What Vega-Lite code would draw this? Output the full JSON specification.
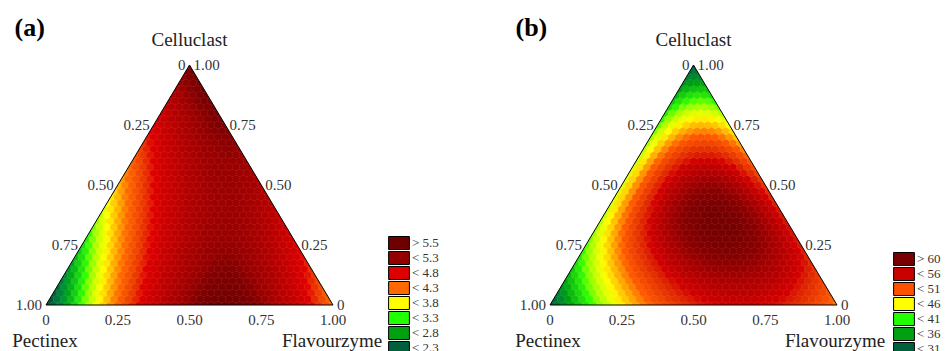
{
"$schema":"https://vega.github.io/schema/vega-lite/v6.json",
"background":"white",
"padding":{"left":12,"top":15,"right":0,"bottom":0},
"spacing":217,
"bounds":"flush",
"config":{"view":{"stroke":null},"legend":{"padding":0}},
"resolve":{"scale":{"color":"independent","fill":"independent","stroke":"independent","x":"independent","y":"independent"},"legend":{"color":"independent"}},
"datasets":{
"common":[
{"g":"o","c":0,"f":0,"o":0},{"g":"o","c":0,"f":1,"o":1},{"g":"o","c":1,"f":0,"o":2},{"g":"o","c":0,"f":0,"o":3},
{"g":"mL","c":0,"f":0},{"g":"mL","c":1,"f":0},
{"g":"mR","c":0,"f":1},{"g":"mR","c":1,"f":0},
{"g":"L","c":1,"f":0,"t":"0"},{"g":"L","c":0.75,"f":0,"t":"0.25"},{"g":"L","c":0.5,"f":0,"t":"0.50"},{"g":"L","c":0.25,"f":0,"t":"0.75"},{"g":"L","c":0,"f":0,"t":"1.00"},
{"g":"R","c":1,"f":0,"t":"1.00"},{"g":"R","c":0.75,"f":0.25,"t":"0.75"},{"g":"R","c":0.5,"f":0.5,"t":"0.50"},{"g":"R","c":0.25,"f":0.75,"t":"0.25"},{"g":"R","c":0,"f":1,"t":"0"},
{"g":"B","c":0,"f":0,"t":"0"},{"g":"B","c":0,"f":0.25,"t":"0.25"},{"g":"B","c":0,"f":0.5,"t":"0.50"},{"g":"B","c":0,"f":0.75,"t":"0.75"},{"g":"B","c":0,"f":1,"t":"1.00"},
{"g":"T","c":1,"f":0,"t":"Celluclast"},
{"g":"N","c":0,"f":0,"t":"Pectinex"},{"g":"N","c":0,"f":1,"t":"Flavourzyme"},
{"g":"ta","c":1,"f":0,"t":"(a)"},{"g":"tb","c":1,"f":0,"t":"(b)"}
],
"a":[
{"c":0,"f":0,"v":2},{"c":0,"f":0.025,"v":2.29},{"c":0,"f":0.05,"v":2.56},{"c":0,"f":0.075,"v":2.82},{"c":0,"f":0.1,"v":3.08},{"c":0,"f":0.125,"v":3.32},{"c":0,"f":0.15,"v":3.54},{"c":0,"f":0.175,"v":3.76},{"c":0,"f":0.2,"v":3.96},{"c":0,"f":0.225,"v":4.16},{"c":0,"f":0.25,"v":4.34},{"c":0,"f":0.275,"v":4.51},{"c":0,"f":0.3,"v":4.66},{"c":0,"f":0.325,"v":4.81},{"c":0,"f":0.35,"v":4.94},{"c":0,"f":0.375,"v":5.07},{"c":0,"f":0.4,"v":5.18},{"c":0,"f":0.425,"v":5.27},{"c":0,"f":0.45,"v":5.36},{"c":0,"f":0.475,"v":5.44},{"c":0,"f":0.5,"v":5.5},{"c":0,"f":0.525,"v":5.55},{"c":0,"f":0.55,"v":5.59},{"c":0,"f":0.575,"v":5.62},{"c":0,"f":0.6,"v":5.64},{"c":0,"f":0.625,"v":5.64},{"c":0,"f":0.65,"v":5.63},{"c":0,"f":0.675,"v":5.61},{"c":0,"f":0.7,"v":5.58},{"c":0,"f":0.725,"v":5.54},{"c":0,"f":0.75,"v":5.49},{"c":0,"f":0.775,"v":5.42},{"c":0,"f":0.8,"v":5.34},{"c":0,"f":0.825,"v":5.25},{"c":0,"f":0.85,"v":5.15},{"c":0,"f":0.875,"v":5.04},{"c":0,"f":0.9,"v":4.92},{"c":0,"f":0.925,"v":4.78},{"c":0,"f":0.95,"v":4.63},{"c":0,"f":0.975,"v":4.47},{"c":0,"f":1,"v":4.3},
{"c":0.025,"f":0,"v":2.11},{"c":0.025,"f":0.025,"v":2.4},{"c":0.025,"f":0.05,"v":2.66},{"c":0.025,"f":0.075,"v":2.92},{"c":0.025,"f":0.1,"v":3.17},{"c":0.025,"f":0.125,"v":3.4},{"c":0.025,"f":0.15,"v":3.62},{"c":0.025,"f":0.175,"v":3.83},{"c":0.025,"f":0.2,"v":4.03},{"c":0.025,"f":0.225,"v":4.22},{"c":0.025,"f":0.25,"v":4.4},{"c":0.025,"f":0.275,"v":4.56},{"c":0.025,"f":0.3,"v":4.71},{"c":0.025,"f":0.325,"v":4.85},{"c":0.025,"f":0.35,"v":4.98},{"c":0.025,"f":0.375,"v":5.1},{"c":0.025,"f":0.4,"v":5.2},{"c":0.025,"f":0.425,"v":5.29},{"c":0.025,"f":0.45,"v":5.37},{"c":0.025,"f":0.475,"v":5.44},{"c":0.025,"f":0.5,"v":5.5},{"c":0.025,"f":0.525,"v":5.55},{"c":0.025,"f":0.55,"v":5.58},{"c":0.025,"f":0.575,"v":5.6},{"c":0.025,"f":0.6,"v":5.62},{"c":0.025,"f":0.625,"v":5.61},{"c":0.025,"f":0.65,"v":5.6},{"c":0.025,"f":0.675,"v":5.58},{"c":0.025,"f":0.7,"v":5.54},{"c":0.025,"f":0.725,"v":5.49},{"c":0.025,"f":0.75,"v":5.43},{"c":0.025,"f":0.775,"v":5.36},{"c":0.025,"f":0.8,"v":5.28},{"c":0.025,"f":0.825,"v":5.18},{"c":0.025,"f":0.85,"v":5.08},{"c":0.025,"f":0.875,"v":4.96},{"c":0.025,"f":0.9,"v":4.83},{"c":0.025,"f":0.925,"v":4.69},{"c":0.025,"f":0.95,"v":4.53},{"c":0.025,"f":0.975,"v":4.37},
{"c":0.05,"f":0,"v":2.23},{"c":0.05,"f":0.025,"v":2.5},{"c":0.05,"f":0.05,"v":2.77},{"c":0.05,"f":0.075,"v":3.02},{"c":0.05,"f":0.1,"v":3.26},{"c":0.05,"f":0.125,"v":3.49},{"c":0.05,"f":0.15,"v":3.7},{"c":0.05,"f":0.175,"v":3.91},{"c":0.05,"f":0.2,"v":4.1},{"c":0.05,"f":0.225,"v":4.28},{"c":0.05,"f":0.25,"v":4.45},{"c":0.05,"f":0.275,"v":4.61},{"c":0.05,"f":0.3,"v":4.76},{"c":0.05,"f":0.325,"v":4.89},{"c":0.05,"f":0.35,"v":5.01},{"c":0.05,"f":0.375,"v":5.12},{"c":0.05,"f":0.4,"v":5.22},{"c":0.05,"f":0.425,"v":5.31},{"c":0.05,"f":0.45,"v":5.39},{"c":0.05,"f":0.475,"v":5.45},{"c":0.05,"f":0.5,"v":5.5},{"c":0.05,"f":0.525,"v":5.54},{"c":0.05,"f":0.55,"v":5.57},{"c":0.05,"f":0.575,"v":5.59},{"c":0.05,"f":0.6,"v":5.59},{"c":0.05,"f":0.625,"v":5.59},{"c":0.05,"f":0.65,"v":5.57},{"c":0.05,"f":0.675,"v":5.54},{"c":0.05,"f":0.7,"v":5.5},{"c":0.05,"f":0.725,"v":5.44},{"c":0.05,"f":0.75,"v":5.38},{"c":0.05,"f":0.775,"v":5.3},{"c":0.05,"f":0.8,"v":5.21},{"c":0.05,"f":0.825,"v":5.11},{"c":0.05,"f":0.85,"v":5},{"c":0.05,"f":0.875,"v":4.87},{"c":0.05,"f":0.9,"v":4.74},{"c":0.05,"f":0.925,"v":4.59},{"c":0.05,"f":0.95,"v":4.43},
{"c":0.075,"f":0,"v":2.34},{"c":0.075,"f":0.025,"v":2.61},{"c":0.075,"f":0.05,"v":2.87},{"c":0.075,"f":0.075,"v":3.11},{"c":0.075,"f":0.1,"v":3.35},{"c":0.075,"f":0.125,"v":3.57},{"c":0.075,"f":0.15,"v":3.78},{"c":0.075,"f":0.175,"v":3.98},{"c":0.075,"f":0.2,"v":4.17},{"c":0.075,"f":0.225,"v":4.34},{"c":0.075,"f":0.25,"v":4.51},{"c":0.075,"f":0.275,"v":4.66},{"c":0.075,"f":0.3,"v":4.8},{"c":0.075,"f":0.325,"v":4.93},{"c":0.075,"f":0.35,"v":5.05},{"c":0.075,"f":0.375,"v":5.15},{"c":0.075,"f":0.4,"v":5.25},{"c":0.075,"f":0.425,"v":5.33},{"c":0.075,"f":0.45,"v":5.4},{"c":0.075,"f":0.475,"v":5.46},{"c":0.075,"f":0.5,"v":5.5},{"c":0.075,"f":0.525,"v":5.54},{"c":0.075,"f":0.55,"v":5.56},{"c":0.075,"f":0.575,"v":5.57},{"c":0.075,"f":0.6,"v":5.57},{"c":0.075,"f":0.625,"v":5.56},{"c":0.075,"f":0.65,"v":5.53},{"c":0.075,"f":0.675,"v":5.5},{"c":0.075,"f":0.7,"v":5.45},{"c":0.075,"f":0.725,"v":5.39},{"c":0.075,"f":0.75,"v":5.32},{"c":0.075,"f":0.775,"v":5.24},{"c":0.075,"f":0.8,"v":5.14},{"c":0.075,"f":0.825,"v":5.04},{"c":0.075,"f":0.85,"v":4.92},{"c":0.075,"f":0.875,"v":4.79},{"c":0.075,"f":0.9,"v":4.65},{"c":0.075,"f":0.925,"v":4.49},
{"c":0.1,"f":0,"v":2.45},{"c":0.1,"f":0.025,"v":2.71},{"c":0.1,"f":0.05,"v":2.97},{"c":0.1,"f":0.075,"v":3.21},{"c":0.1,"f":0.1,"v":3.44},{"c":0.1,"f":0.125,"v":3.65},{"c":0.1,"f":0.15,"v":3.86},{"c":0.1,"f":0.175,"v":4.05},{"c":0.1,"f":0.2,"v":4.23},{"c":0.1,"f":0.225,"v":4.4},{"c":0.1,"f":0.25,"v":4.56},{"c":0.1,"f":0.275,"v":4.71},{"c":0.1,"f":0.3,"v":4.84},{"c":0.1,"f":0.325,"v":4.97},{"c":0.1,"f":0.35,"v":5.08},{"c":0.1,"f":0.375,"v":5.18},{"c":0.1,"f":0.4,"v":5.27},{"c":0.1,"f":0.425,"v":5.34},{"c":0.1,"f":0.45,"v":5.41},{"c":0.1,"f":0.475,"v":5.46},{"c":0.1,"f":0.5,"v":5.5},{"c":0.1,"f":0.525,"v":5.53},{"c":0.1,"f":0.55,"v":5.55},{"c":0.1,"f":0.575,"v":5.55},{"c":0.1,"f":0.6,"v":5.55},{"c":0.1,"f":0.625,"v":5.53},{"c":0.1,"f":0.65,"v":5.5},{"c":0.1,"f":0.675,"v":5.46},{"c":0.1,"f":0.7,"v":5.4},{"c":0.1,"f":0.725,"v":5.34},{"c":0.1,"f":0.75,"v":5.26},{"c":0.1,"f":0.775,"v":5.17},{"c":0.1,"f":0.8,"v":5.07},{"c":0.1,"f":0.825,"v":4.96},{"c":0.1,"f":0.85,"v":4.84},{"c":0.1,"f":0.875,"v":4.7},{"c":0.1,"f":0.9,"v":4.56},
{"c":0.125,"f":0,"v":2.56},{"c":0.125,"f":0.025,"v":2.82},{"c":0.125,"f":0.05,"v":3.06},{"c":0.125,"f":0.075,"v":3.3},{"c":0.125,"f":0.1,"v":3.52},{"c":0.125,"f":0.125,"v":3.73},{"c":0.125,"f":0.15,"v":3.93},{"c":0.125,"f":0.175,"v":4.12},{"c":0.125,"f":0.2,"v":4.3},{"c":0.125,"f":0.225,"v":4.46},{"c":0.125,"f":0.25,"v":4.62},{"c":0.125,"f":0.275,"v":4.76},{"c":0.125,"f":0.3,"v":4.89},{"c":0.125,"f":0.325,"v":5},{"c":0.125,"f":0.35,"v":5.11},{"c":0.125,"f":0.375,"v":5.2},{"c":0.125,"f":0.4,"v":5.29},{"c":0.125,"f":0.425,"v":5.36},{"c":0.125,"f":0.45,"v":5.41},{"c":0.125,"f":0.475,"v":5.46},{"c":0.125,"f":0.5,"v":5.5},{"c":0.125,"f":0.525,"v":5.52},{"c":0.125,"f":0.55,"v":5.53},{"c":0.125,"f":0.575,"v":5.53},{"c":0.125,"f":0.6,"v":5.52},{"c":0.125,"f":0.625,"v":5.5},{"c":0.125,"f":0.65,"v":5.46},{"c":0.125,"f":0.675,"v":5.41},{"c":0.125,"f":0.7,"v":5.36},{"c":0.125,"f":0.725,"v":5.29},{"c":0.125,"f":0.75,"v":5.2},{"c":0.125,"f":0.775,"v":5.11},{"c":0.125,"f":0.8,"v":5},{"c":0.125,"f":0.825,"v":4.89},{"c":0.125,"f":0.85,"v":4.76},{"c":0.125,"f":0.875,"v":4.62},
{"c":0.15,"f":0,"v":2.67},{"c":0.15,"f":0.025,"v":2.92},{"c":0.15,"f":0.05,"v":3.16},{"c":0.15,"f":0.075,"v":3.39},{"c":0.15,"f":0.1,"v":3.61},{"c":0.15,"f":0.125,"v":3.81},{"c":0.15,"f":0.15,"v":4.01},{"c":0.15,"f":0.175,"v":4.19},{"c":0.15,"f":0.2,"v":4.36},{"c":0.15,"f":0.225,"v":4.52},{"c":0.15,"f":0.25,"v":4.67},{"c":0.15,"f":0.275,"v":4.8},{"c":0.15,"f":0.3,"v":4.93},{"c":0.15,"f":0.325,"v":5.04},{"c":0.15,"f":0.35,"v":5.14},{"c":0.15,"f":0.375,"v":5.23},{"c":0.15,"f":0.4,"v":5.3},{"c":0.15,"f":0.425,"v":5.37},{"c":0.15,"f":0.45,"v":5.42},{"c":0.15,"f":0.475,"v":5.46},{"c":0.15,"f":0.5,"v":5.49},{"c":0.15,"f":0.525,"v":5.51},{"c":0.15,"f":0.55,"v":5.52},{"c":0.15,"f":0.575,"v":5.51},{"c":0.15,"f":0.6,"v":5.49},{"c":0.15,"f":0.625,"v":5.46},{"c":0.15,"f":0.65,"v":5.42},{"c":0.15,"f":0.675,"v":5.37},{"c":0.15,"f":0.7,"v":5.31},{"c":0.15,"f":0.725,"v":5.23},{"c":0.15,"f":0.75,"v":5.14},{"c":0.15,"f":0.775,"v":5.04},{"c":0.15,"f":0.8,"v":4.93},{"c":0.15,"f":0.825,"v":4.81},{"c":0.15,"f":0.85,"v":4.67},
{"c":0.175,"f":0,"v":2.77},{"c":0.175,"f":0.025,"v":3.02},{"c":0.175,"f":0.05,"v":3.26},{"c":0.175,"f":0.075,"v":3.48},{"c":0.175,"f":0.1,"v":3.69},{"c":0.175,"f":0.125,"v":3.89},{"c":0.175,"f":0.15,"v":4.08},{"c":0.175,"f":0.175,"v":4.26},{"c":0.175,"f":0.2,"v":4.42},{"c":0.175,"f":0.225,"v":4.58},{"c":0.175,"f":0.25,"v":4.72},{"c":0.175,"f":0.275,"v":4.85},{"c":0.175,"f":0.3,"v":4.97},{"c":0.175,"f":0.325,"v":5.07},{"c":0.175,"f":0.35,"v":5.17},{"c":0.175,"f":0.375,"v":5.25},{"c":0.175,"f":0.4,"v":5.32},{"c":0.175,"f":0.425,"v":5.38},{"c":0.175,"f":0.45,"v":5.43},{"c":0.175,"f":0.475,"v":5.46},{"c":0.175,"f":0.5,"v":5.49},{"c":0.175,"f":0.525,"v":5.5},{"c":0.175,"f":0.55,"v":5.5},{"c":0.175,"f":0.575,"v":5.49},{"c":0.175,"f":0.6,"v":5.47},{"c":0.175,"f":0.625,"v":5.43},{"c":0.175,"f":0.65,"v":5.38},{"c":0.175,"f":0.675,"v":5.33},{"c":0.175,"f":0.7,"v":5.26},{"c":0.175,"f":0.725,"v":5.17},{"c":0.175,"f":0.75,"v":5.08},{"c":0.175,"f":0.775,"v":4.98},{"c":0.175,"f":0.8,"v":4.86},{"c":0.175,"f":0.825,"v":4.73},
{"c":0.2,"f":0,"v":2.88},{"c":0.2,"f":0.025,"v":3.12},{"c":0.2,"f":0.05,"v":3.35},{"c":0.2,"f":0.075,"v":3.57},{"c":0.2,"f":0.1,"v":3.78},{"c":0.2,"f":0.125,"v":3.97},{"c":0.2,"f":0.15,"v":4.15},{"c":0.2,"f":0.175,"v":4.32},{"c":0.2,"f":0.2,"v":4.48},{"c":0.2,"f":0.225,"v":4.63},{"c":0.2,"f":0.25,"v":4.77},{"c":0.2,"f":0.275,"v":4.89},{"c":0.2,"f":0.3,"v":5},{"c":0.2,"f":0.325,"v":5.1},{"c":0.2,"f":0.35,"v":5.19},{"c":0.2,"f":0.375,"v":5.27},{"c":0.2,"f":0.4,"v":5.34},{"c":0.2,"f":0.425,"v":5.39},{"c":0.2,"f":0.45,"v":5.43},{"c":0.2,"f":0.475,"v":5.46},{"c":0.2,"f":0.5,"v":5.48},{"c":0.2,"f":0.525,"v":5.49},{"c":0.2,"f":0.55,"v":5.48},{"c":0.2,"f":0.575,"v":5.46},{"c":0.2,"f":0.6,"v":5.44},{"c":0.2,"f":0.625,"v":5.4},{"c":0.2,"f":0.65,"v":5.34},{"c":0.2,"f":0.675,"v":5.28},{"c":0.2,"f":0.7,"v":5.2},{"c":0.2,"f":0.725,"v":5.12},{"c":0.2,"f":0.75,"v":5.02},{"c":0.2,"f":0.775,"v":4.91},{"c":0.2,"f":0.8,"v":4.78},
{"c":0.225,"f":0,"v":2.98},{"c":0.225,"f":0.025,"v":3.22},{"c":0.225,"f":0.05,"v":3.44},{"c":0.225,"f":0.075,"v":3.66},{"c":0.225,"f":0.1,"v":3.86},{"c":0.225,"f":0.125,"v":4.05},{"c":0.225,"f":0.15,"v":4.22},{"c":0.225,"f":0.175,"v":4.39},{"c":0.225,"f":0.2,"v":4.54},{"c":0.225,"f":0.225,"v":4.69},{"c":0.225,"f":0.25,"v":4.82},{"c":0.225,"f":0.275,"v":4.93},{"c":0.225,"f":0.3,"v":5.04},{"c":0.225,"f":0.325,"v":5.14},{"c":0.225,"f":0.35,"v":5.22},{"c":0.225,"f":0.375,"v":5.29},{"c":0.225,"f":0.4,"v":5.35},{"c":0.225,"f":0.425,"v":5.4},{"c":0.225,"f":0.45,"v":5.43},{"c":0.225,"f":0.475,"v":5.46},{"c":0.225,"f":0.5,"v":5.47},{"c":0.225,"f":0.525,"v":5.47},{"c":0.225,"f":0.55,"v":5.46},{"c":0.225,"f":0.575,"v":5.44},{"c":0.225,"f":0.6,"v":5.41},{"c":0.225,"f":0.625,"v":5.36},{"c":0.225,"f":0.65,"v":5.3},{"c":0.225,"f":0.675,"v":5.23},{"c":0.225,"f":0.7,"v":5.15},{"c":0.225,"f":0.725,"v":5.06},{"c":0.225,"f":0.75,"v":4.95},{"c":0.225,"f":0.775,"v":4.84},
{"c":0.25,"f":0,"v":3.09},{"c":0.25,"f":0.025,"v":3.32},{"c":0.25,"f":0.05,"v":3.54},{"c":0.25,"f":0.075,"v":3.74},{"c":0.25,"f":0.1,"v":3.94},{"c":0.25,"f":0.125,"v":4.12},{"c":0.25,"f":0.15,"v":4.29},{"c":0.25,"f":0.175,"v":4.45},{"c":0.25,"f":0.2,"v":4.6},{"c":0.25,"f":0.225,"v":4.74},{"c":0.25,"f":0.25,"v":4.86},{"c":0.25,"f":0.275,"v":4.98},{"c":0.25,"f":0.3,"v":5.08},{"c":0.25,"f":0.325,"v":5.17},{"c":0.25,"f":0.35,"v":5.24},{"c":0.25,"f":0.375,"v":5.31},{"c":0.25,"f":0.4,"v":5.36},{"c":0.25,"f":0.425,"v":5.41},{"c":0.25,"f":0.45,"v":5.44},{"c":0.25,"f":0.475,"v":5.46},{"c":0.25,"f":0.5,"v":5.46},{"c":0.25,"f":0.525,"v":5.46},{"c":0.25,"f":0.55,"v":5.44},{"c":0.25,"f":0.575,"v":5.41},{"c":0.25,"f":0.6,"v":5.37},{"c":0.25,"f":0.625,"v":5.32},{"c":0.25,"f":0.65,"v":5.26},{"c":0.25,"f":0.675,"v":5.18},{"c":0.25,"f":0.7,"v":5.1},{"c":0.25,"f":0.725,"v":5},{"c":0.25,"f":0.75,"v":4.89},
{"c":0.275,"f":0,"v":3.19},{"c":0.275,"f":0.025,"v":3.41},{"c":0.275,"f":0.05,"v":3.63},{"c":0.275,"f":0.075,"v":3.83},{"c":0.275,"f":0.1,"v":4.02},{"c":0.275,"f":0.125,"v":4.2},{"c":0.275,"f":0.15,"v":4.36},{"c":0.275,"f":0.175,"v":4.52},{"c":0.275,"f":0.2,"v":4.66},{"c":0.275,"f":0.225,"v":4.79},{"c":0.275,"f":0.25,"v":4.91},{"c":0.275,"f":0.275,"v":5.02},{"c":0.275,"f":0.3,"v":5.11},{"c":0.275,"f":0.325,"v":5.19},{"c":0.275,"f":0.35,"v":5.27},{"c":0.275,"f":0.375,"v":5.33},{"c":0.275,"f":0.4,"v":5.38},{"c":0.275,"f":0.425,"v":5.41},{"c":0.275,"f":0.45,"v":5.44},{"c":0.275,"f":0.475,"v":5.45},{"c":0.275,"f":0.5,"v":5.45},{"c":0.275,"f":0.525,"v":5.44},{"c":0.275,"f":0.55,"v":5.42},{"c":0.275,"f":0.575,"v":5.39},{"c":0.275,"f":0.6,"v":5.34},{"c":0.275,"f":0.625,"v":5.28},{"c":0.275,"f":0.65,"v":5.21},{"c":0.275,"f":0.675,"v":5.13},{"c":0.275,"f":0.7,"v":5.04},{"c":0.275,"f":0.725,"v":4.94},
{"c":0.3,"f":0,"v":3.29},{"c":0.3,"f":0.025,"v":3.51},{"c":0.3,"f":0.05,"v":3.72},{"c":0.3,"f":0.075,"v":3.91},{"c":0.3,"f":0.1,"v":4.1},{"c":0.3,"f":0.125,"v":4.27},{"c":0.3,"f":0.15,"v":4.43},{"c":0.3,"f":0.175,"v":4.58},{"c":0.3,"f":0.2,"v":4.71},{"c":0.3,"f":0.225,"v":4.84},{"c":0.3,"f":0.25,"v":4.95},{"c":0.3,"f":0.275,"v":5.05},{"c":0.3,"f":0.3,"v":5.14},{"c":0.3,"f":0.325,"v":5.22},{"c":0.3,"f":0.35,"v":5.29},{"c":0.3,"f":0.375,"v":5.34},{"c":0.3,"f":0.4,"v":5.39},{"c":0.3,"f":0.425,"v":5.42},{"c":0.3,"f":0.45,"v":5.44},{"c":0.3,"f":0.475,"v":5.44},{"c":0.3,"f":0.5,"v":5.44},{"c":0.3,"f":0.525,"v":5.42},{"c":0.3,"f":0.55,"v":5.4},{"c":0.3,"f":0.575,"v":5.36},{"c":0.3,"f":0.6,"v":5.31},{"c":0.3,"f":0.625,"v":5.24},{"c":0.3,"f":0.65,"v":5.17},{"c":0.3,"f":0.675,"v":5.08},{"c":0.3,"f":0.7,"v":4.98},
{"c":0.325,"f":0,"v":3.39},{"c":0.325,"f":0.025,"v":3.6},{"c":0.325,"f":0.05,"v":3.8},{"c":0.325,"f":0.075,"v":3.99},{"c":0.325,"f":0.1,"v":4.17},{"c":0.325,"f":0.125,"v":4.34},{"c":0.325,"f":0.15,"v":4.49},{"c":0.325,"f":0.175,"v":4.64},{"c":0.325,"f":0.2,"v":4.77},{"c":0.325,"f":0.225,"v":4.89},{"c":0.325,"f":0.25,"v":5},{"c":0.325,"f":0.275,"v":5.09},{"c":0.325,"f":0.3,"v":5.18},{"c":0.325,"f":0.325,"v":5.25},{"c":0.325,"f":0.35,"v":5.31},{"c":0.325,"f":0.375,"v":5.36},{"c":0.325,"f":0.4,"v":5.4},{"c":0.325,"f":0.425,"v":5.42},{"c":0.325,"f":0.45,"v":5.43},{"c":0.325,"f":0.475,"v":5.44},{"c":0.325,"f":0.5,"v":5.43},{"c":0.325,"f":0.525,"v":5.41},{"c":0.325,"f":0.55,"v":5.37},{"c":0.325,"f":0.575,"v":5.33},{"c":0.325,"f":0.6,"v":5.27},{"c":0.325,"f":0.625,"v":5.2},{"c":0.325,"f":0.65,"v":5.12},{"c":0.325,"f":0.675,"v":5.03},
{"c":0.35,"f":0,"v":3.49},{"c":0.35,"f":0.025,"v":3.7},{"c":0.35,"f":0.05,"v":3.89},{"c":0.35,"f":0.075,"v":4.08},{"c":0.35,"f":0.1,"v":4.25},{"c":0.35,"f":0.125,"v":4.41},{"c":0.35,"f":0.15,"v":4.56},{"c":0.35,"f":0.175,"v":4.7},{"c":0.35,"f":0.2,"v":4.82},{"c":0.35,"f":0.225,"v":4.94},{"c":0.35,"f":0.25,"v":5.04},{"c":0.35,"f":0.275,"v":5.13},{"c":0.35,"f":0.3,"v":5.21},{"c":0.35,"f":0.325,"v":5.27},{"c":0.35,"f":0.35,"v":5.33},{"c":0.35,"f":0.375,"v":5.37},{"c":0.35,"f":0.4,"v":5.4},{"c":0.35,"f":0.425,"v":5.42},{"c":0.35,"f":0.45,"v":5.43},{"c":0.35,"f":0.475,"v":5.43},{"c":0.35,"f":0.5,"v":5.41},{"c":0.35,"f":0.525,"v":5.39},{"c":0.35,"f":0.55,"v":5.35},{"c":0.35,"f":0.575,"v":5.3},{"c":0.35,"f":0.6,"v":5.23},{"c":0.35,"f":0.625,"v":5.16},{"c":0.35,"f":0.65,"v":5.07},
{"c":0.375,"f":0,"v":3.58},{"c":0.375,"f":0.025,"v":3.79},{"c":0.375,"f":0.05,"v":3.98},{"c":0.375,"f":0.075,"v":4.16},{"c":0.375,"f":0.1,"v":4.32},{"c":0.375,"f":0.125,"v":4.48},{"c":0.375,"f":0.15,"v":4.62},{"c":0.375,"f":0.175,"v":4.75},{"c":0.375,"f":0.2,"v":4.87},{"c":0.375,"f":0.225,"v":4.98},{"c":0.375,"f":0.25,"v":5.08},{"c":0.375,"f":0.275,"v":5.16},{"c":0.375,"f":0.3,"v":5.24},{"c":0.375,"f":0.325,"v":5.3},{"c":0.375,"f":0.35,"v":5.35},{"c":0.375,"f":0.375,"v":5.38},{"c":0.375,"f":0.4,"v":5.41},{"c":0.375,"f":0.425,"v":5.42},{"c":0.375,"f":0.45,"v":5.43},{"c":0.375,"f":0.475,"v":5.42},{"c":0.375,"f":0.5,"v":5.4},{"c":0.375,"f":0.525,"v":5.36},{"c":0.375,"f":0.55,"v":5.32},{"c":0.375,"f":0.575,"v":5.26},{"c":0.375,"f":0.6,"v":5.2},{"c":0.375,"f":0.625,"v":5.12},
{"c":0.4,"f":0,"v":3.68},{"c":0.4,"f":0.025,"v":3.88},{"c":0.4,"f":0.05,"v":4.06},{"c":0.4,"f":0.075,"v":4.23},{"c":0.4,"f":0.1,"v":4.4},{"c":0.4,"f":0.125,"v":4.55},{"c":0.4,"f":0.15,"v":4.68},{"c":0.4,"f":0.175,"v":4.81},{"c":0.4,"f":0.2,"v":4.92},{"c":0.4,"f":0.225,"v":5.03},{"c":0.4,"f":0.25,"v":5.12},{"c":0.4,"f":0.275,"v":5.2},{"c":0.4,"f":0.3,"v":5.26},{"c":0.4,"f":0.325,"v":5.32},{"c":0.4,"f":0.35,"v":5.36},{"c":0.4,"f":0.375,"v":5.4},{"c":0.4,"f":0.4,"v":5.42},{"c":0.4,"f":0.425,"v":5.42},{"c":0.4,"f":0.45,"v":5.42},{"c":0.4,"f":0.475,"v":5.41},{"c":0.4,"f":0.5,"v":5.38},{"c":0.4,"f":0.525,"v":5.34},{"c":0.4,"f":0.55,"v":5.29},{"c":0.4,"f":0.575,"v":5.23},{"c":0.4,"f":0.6,"v":5.16},
{"c":0.425,"f":0,"v":3.77},{"c":0.425,"f":0.025,"v":3.97},{"c":0.425,"f":0.05,"v":4.14},{"c":0.425,"f":0.075,"v":4.31},{"c":0.425,"f":0.1,"v":4.47},{"c":0.425,"f":0.125,"v":4.61},{"c":0.425,"f":0.15,"v":4.74},{"c":0.425,"f":0.175,"v":4.86},{"c":0.425,"f":0.2,"v":4.97},{"c":0.425,"f":0.225,"v":5.07},{"c":0.425,"f":0.25,"v":5.16},{"c":0.425,"f":0.275,"v":5.23},{"c":0.425,"f":0.3,"v":5.29},{"c":0.425,"f":0.325,"v":5.34},{"c":0.425,"f":0.35,"v":5.38},{"c":0.425,"f":0.375,"v":5.41},{"c":0.425,"f":0.4,"v":5.42},{"c":0.425,"f":0.425,"v":5.42},{"c":0.425,"f":0.45,"v":5.41},{"c":0.425,"f":0.475,"v":5.39},{"c":0.425,"f":0.5,"v":5.36},{"c":0.425,"f":0.525,"v":5.32},{"c":0.425,"f":0.55,"v":5.26},{"c":0.425,"f":0.575,"v":5.19},
{"c":0.45,"f":0,"v":3.87},{"c":0.45,"f":0.025,"v":4.05},{"c":0.45,"f":0.05,"v":4.23},{"c":0.45,"f":0.075,"v":4.39},{"c":0.45,"f":0.1,"v":4.54},{"c":0.45,"f":0.125,"v":4.68},{"c":0.45,"f":0.15,"v":4.8},{"c":0.45,"f":0.175,"v":4.92},{"c":0.45,"f":0.2,"v":5.02},{"c":0.45,"f":0.225,"v":5.11},{"c":0.45,"f":0.25,"v":5.19},{"c":0.45,"f":0.275,"v":5.26},{"c":0.45,"f":0.3,"v":5.32},{"c":0.45,"f":0.325,"v":5.36},{"c":0.45,"f":0.35,"v":5.39},{"c":0.45,"f":0.375,"v":5.41},{"c":0.45,"f":0.4,"v":5.42},{"c":0.45,"f":0.425,"v":5.42},{"c":0.45,"f":0.45,"v":5.41},{"c":0.45,"f":0.475,"v":5.38},{"c":0.45,"f":0.5,"v":5.34},{"c":0.45,"f":0.525,"v":5.29},{"c":0.45,"f":0.55,"v":5.23},
{"c":0.475,"f":0,"v":3.96},{"c":0.475,"f":0.025,"v":4.14},{"c":0.475,"f":0.05,"v":4.31},{"c":0.475,"f":0.075,"v":4.46},{"c":0.475,"f":0.1,"v":4.61},{"c":0.475,"f":0.125,"v":4.74},{"c":0.475,"f":0.15,"v":4.86},{"c":0.475,"f":0.175,"v":4.97},{"c":0.475,"f":0.2,"v":5.07},{"c":0.475,"f":0.225,"v":5.15},{"c":0.475,"f":0.25,"v":5.23},{"c":0.475,"f":0.275,"v":5.29},{"c":0.475,"f":0.3,"v":5.34},{"c":0.475,"f":0.325,"v":5.38},{"c":0.475,"f":0.35,"v":5.41},{"c":0.475,"f":0.375,"v":5.42},{"c":0.475,"f":0.4,"v":5.43},{"c":0.475,"f":0.425,"v":5.42},{"c":0.475,"f":0.45,"v":5.4},{"c":0.475,"f":0.475,"v":5.37},{"c":0.475,"f":0.5,"v":5.32},{"c":0.475,"f":0.525,"v":5.27},
{"c":0.5,"f":0,"v":4.05},{"c":0.5,"f":0.025,"v":4.22},{"c":0.5,"f":0.05,"v":4.39},{"c":0.5,"f":0.075,"v":4.54},{"c":0.5,"f":0.1,"v":4.68},{"c":0.5,"f":0.125,"v":4.8},{"c":0.5,"f":0.15,"v":4.92},{"c":0.5,"f":0.175,"v":5.02},{"c":0.5,"f":0.2,"v":5.11},{"c":0.5,"f":0.225,"v":5.19},{"c":0.5,"f":0.25,"v":5.26},{"c":0.5,"f":0.275,"v":5.32},{"c":0.5,"f":0.3,"v":5.36},{"c":0.5,"f":0.325,"v":5.4},{"c":0.5,"f":0.35,"v":5.42},{"c":0.5,"f":0.375,"v":5.43},{"c":0.5,"f":0.4,"v":5.43},{"c":0.5,"f":0.425,"v":5.41},{"c":0.5,"f":0.45,"v":5.39},{"c":0.5,"f":0.475,"v":5.35},{"c":0.5,"f":0.5,"v":5.3},
{"c":0.525,"f":0,"v":4.14},{"c":0.525,"f":0.025,"v":4.31},{"c":0.525,"f":0.05,"v":4.46},{"c":0.525,"f":0.075,"v":4.61},{"c":0.525,"f":0.1,"v":4.74},{"c":0.525,"f":0.125,"v":4.86},{"c":0.525,"f":0.15,"v":4.97},{"c":0.525,"f":0.175,"v":5.07},{"c":0.525,"f":0.2,"v":5.16},{"c":0.525,"f":0.225,"v":5.23},{"c":0.525,"f":0.25,"v":5.3},{"c":0.525,"f":0.275,"v":5.35},{"c":0.525,"f":0.3,"v":5.39},{"c":0.525,"f":0.325,"v":5.41},{"c":0.525,"f":0.35,"v":5.43},{"c":0.525,"f":0.375,"v":5.43},{"c":0.525,"f":0.4,"v":5.43},{"c":0.525,"f":0.425,"v":5.41},{"c":0.525,"f":0.45,"v":5.37},{"c":0.525,"f":0.475,"v":5.33},
{"c":0.55,"f":0,"v":4.23},{"c":0.55,"f":0.025,"v":4.39},{"c":0.55,"f":0.05,"v":4.54},{"c":0.55,"f":0.075,"v":4.68},{"c":0.55,"f":0.1,"v":4.81},{"c":0.55,"f":0.125,"v":4.92},{"c":0.55,"f":0.15,"v":5.03},{"c":0.55,"f":0.175,"v":5.12},{"c":0.55,"f":0.2,"v":5.2},{"c":0.55,"f":0.225,"v":5.27},{"c":0.55,"f":0.25,"v":5.33},{"c":0.55,"f":0.275,"v":5.37},{"c":0.55,"f":0.3,"v":5.41},{"c":0.55,"f":0.325,"v":5.43},{"c":0.55,"f":0.35,"v":5.44},{"c":0.55,"f":0.375,"v":5.44},{"c":0.55,"f":0.4,"v":5.42},{"c":0.55,"f":0.425,"v":5.4},{"c":0.55,"f":0.45,"v":5.36},
{"c":0.575,"f":0,"v":4.31},{"c":0.575,"f":0.025,"v":4.47},{"c":0.575,"f":0.05,"v":4.62},{"c":0.575,"f":0.075,"v":4.75},{"c":0.575,"f":0.1,"v":4.87},{"c":0.575,"f":0.125,"v":4.98},{"c":0.575,"f":0.15,"v":5.08},{"c":0.575,"f":0.175,"v":5.17},{"c":0.575,"f":0.2,"v":5.24},{"c":0.575,"f":0.225,"v":5.31},{"c":0.575,"f":0.25,"v":5.36},{"c":0.575,"f":0.275,"v":5.4},{"c":0.575,"f":0.3,"v":5.43},{"c":0.575,"f":0.325,"v":5.44},{"c":0.575,"f":0.35,"v":5.45},{"c":0.575,"f":0.375,"v":5.44},{"c":0.575,"f":0.4,"v":5.42},{"c":0.575,"f":0.425,"v":5.39},
{"c":0.6,"f":0,"v":4.4},{"c":0.6,"f":0.025,"v":4.55},{"c":0.6,"f":0.05,"v":4.69},{"c":0.6,"f":0.075,"v":4.82},{"c":0.6,"f":0.1,"v":4.94},{"c":0.6,"f":0.125,"v":5.04},{"c":0.6,"f":0.15,"v":5.13},{"c":0.6,"f":0.175,"v":5.21},{"c":0.6,"f":0.2,"v":5.28},{"c":0.6,"f":0.225,"v":5.34},{"c":0.6,"f":0.25,"v":5.39},{"c":0.6,"f":0.275,"v":5.42},{"c":0.6,"f":0.3,"v":5.44},{"c":0.6,"f":0.325,"v":5.45},{"c":0.6,"f":0.35,"v":5.45},{"c":0.6,"f":0.375,"v":5.44},{"c":0.6,"f":0.4,"v":5.42},
{"c":0.625,"f":0,"v":4.48},{"c":0.625,"f":0.025,"v":4.63},{"c":0.625,"f":0.05,"v":4.76},{"c":0.625,"f":0.075,"v":4.89},{"c":0.625,"f":0.1,"v":5},{"c":0.625,"f":0.125,"v":5.1},{"c":0.625,"f":0.15,"v":5.18},{"c":0.625,"f":0.175,"v":5.26},{"c":0.625,"f":0.2,"v":5.32},{"c":0.625,"f":0.225,"v":5.38},{"c":0.625,"f":0.25,"v":5.42},{"c":0.625,"f":0.275,"v":5.44},{"c":0.625,"f":0.3,"v":5.46},{"c":0.625,"f":0.325,"v":5.47},{"c":0.625,"f":0.35,"v":5.46},{"c":0.625,"f":0.375,"v":5.44},
{"c":0.65,"f":0,"v":4.57},{"c":0.65,"f":0.025,"v":4.71},{"c":0.65,"f":0.05,"v":4.84},{"c":0.65,"f":0.075,"v":4.95},{"c":0.65,"f":0.1,"v":5.06},{"c":0.65,"f":0.125,"v":5.15},{"c":0.65,"f":0.15,"v":5.23},{"c":0.65,"f":0.175,"v":5.3},{"c":0.65,"f":0.2,"v":5.36},{"c":0.65,"f":0.225,"v":5.41},{"c":0.65,"f":0.25,"v":5.44},{"c":0.65,"f":0.275,"v":5.47},{"c":0.65,"f":0.3,"v":5.48},{"c":0.65,"f":0.325,"v":5.48},{"c":0.65,"f":0.35,"v":5.46},
{"c":0.675,"f":0,"v":4.65},{"c":0.675,"f":0.025,"v":4.78},{"c":0.675,"f":0.05,"v":4.91},{"c":0.675,"f":0.075,"v":5.02},{"c":0.675,"f":0.1,"v":5.12},{"c":0.675,"f":0.125,"v":5.21},{"c":0.675,"f":0.15,"v":5.28},{"c":0.675,"f":0.175,"v":5.35},{"c":0.675,"f":0.2,"v":5.4},{"c":0.675,"f":0.225,"v":5.44},{"c":0.675,"f":0.25,"v":5.47},{"c":0.675,"f":0.275,"v":5.49},{"c":0.675,"f":0.3,"v":5.49},{"c":0.675,"f":0.325,"v":5.48},
{"c":0.7,"f":0,"v":4.73},{"c":0.7,"f":0.025,"v":4.86},{"c":0.7,"f":0.05,"v":4.98},{"c":0.7,"f":0.075,"v":5.08},{"c":0.7,"f":0.1,"v":5.18},{"c":0.7,"f":0.125,"v":5.26},{"c":0.7,"f":0.15,"v":5.33},{"c":0.7,"f":0.175,"v":5.39},{"c":0.7,"f":0.2,"v":5.43},{"c":0.7,"f":0.225,"v":5.47},{"c":0.7,"f":0.25,"v":5.49},{"c":0.7,"f":0.275,"v":5.5},{"c":0.7,"f":0.3,"v":5.5},
{"c":0.725,"f":0,"v":4.81},{"c":0.725,"f":0.025,"v":4.93},{"c":0.725,"f":0.05,"v":5.04},{"c":0.725,"f":0.075,"v":5.14},{"c":0.725,"f":0.1,"v":5.23},{"c":0.725,"f":0.125,"v":5.31},{"c":0.725,"f":0.15,"v":5.37},{"c":0.725,"f":0.175,"v":5.43},{"c":0.725,"f":0.2,"v":5.47},{"c":0.725,"f":0.225,"v":5.5},{"c":0.725,"f":0.25,"v":5.52},{"c":0.725,"f":0.275,"v":5.52},
{"c":0.75,"f":0,"v":4.89},{"c":0.75,"f":0.025,"v":5.01},{"c":0.75,"f":0.05,"v":5.11},{"c":0.75,"f":0.075,"v":5.21},{"c":0.75,"f":0.1,"v":5.29},{"c":0.75,"f":0.125,"v":5.36},{"c":0.75,"f":0.15,"v":5.42},{"c":0.75,"f":0.175,"v":5.47},{"c":0.75,"f":0.2,"v":5.5},{"c":0.75,"f":0.225,"v":5.53},{"c":0.75,"f":0.25,"v":5.54},
{"c":0.775,"f":0,"v":4.96},{"c":0.775,"f":0.025,"v":5.08},{"c":0.775,"f":0.05,"v":5.18},{"c":0.775,"f":0.075,"v":5.27},{"c":0.775,"f":0.1,"v":5.34},{"c":0.775,"f":0.125,"v":5.41},{"c":0.775,"f":0.15,"v":5.46},{"c":0.775,"f":0.175,"v":5.5},{"c":0.775,"f":0.2,"v":5.53},{"c":0.775,"f":0.225,"v":5.55},
{"c":0.8,"f":0,"v":5.04},{"c":0.8,"f":0.025,"v":5.15},{"c":0.8,"f":0.05,"v":5.24},{"c":0.8,"f":0.075,"v":5.32},{"c":0.8,"f":0.1,"v":5.4},{"c":0.8,"f":0.125,"v":5.46},{"c":0.8,"f":0.15,"v":5.5},{"c":0.8,"f":0.175,"v":5.54},{"c":0.8,"f":0.2,"v":5.56},
{"c":0.825,"f":0,"v":5.11},{"c":0.825,"f":0.025,"v":5.22},{"c":0.825,"f":0.05,"v":5.3},{"c":0.825,"f":0.075,"v":5.38},{"c":0.825,"f":0.1,"v":5.45},{"c":0.825,"f":0.125,"v":5.5},{"c":0.825,"f":0.15,"v":5.54},{"c":0.825,"f":0.175,"v":5.57},
{"c":0.85,"f":0,"v":5.19},{"c":0.85,"f":0.025,"v":5.28},{"c":0.85,"f":0.05,"v":5.37},{"c":0.85,"f":0.075,"v":5.44},{"c":0.85,"f":0.1,"v":5.5},{"c":0.85,"f":0.125,"v":5.55},{"c":0.85,"f":0.15,"v":5.58},
{"c":0.875,"f":0,"v":5.26},{"c":0.875,"f":0.025,"v":5.35},{"c":0.875,"f":0.05,"v":5.43},{"c":0.875,"f":0.075,"v":5.49},{"c":0.875,"f":0.1,"v":5.55},{"c":0.875,"f":0.125,"v":5.59},
{"c":0.9,"f":0,"v":5.33},{"c":0.9,"f":0.025,"v":5.41},{"c":0.9,"f":0.05,"v":5.49},{"c":0.9,"f":0.075,"v":5.55},{"c":0.9,"f":0.1,"v":5.6},
{"c":0.925,"f":0,"v":5.4},{"c":0.925,"f":0.025,"v":5.48},{"c":0.925,"f":0.05,"v":5.54},{"c":0.925,"f":0.075,"v":5.6},
{"c":0.95,"f":0,"v":5.47},{"c":0.95,"f":0.025,"v":5.54},{"c":0.95,"f":0.05,"v":5.6},
{"c":0.975,"f":0,"v":5.53},{"c":0.975,"f":0.025,"v":5.6},
{"c":1,"f":0,"v":5.6}
],
"b":[
{"c":0,"f":0,"v":31},{"c":0,"f":0.025,"v":32.9},{"c":0,"f":0.05,"v":34.7},{"c":0,"f":0.075,"v":36.4},{"c":0,"f":0.1,"v":38.1},{"c":0,"f":0.125,"v":39.7},{"c":0,"f":0.15,"v":41.2},{"c":0,"f":0.175,"v":42.7},{"c":0,"f":0.2,"v":44.1},{"c":0,"f":0.225,"v":45.4},{"c":0,"f":0.25,"v":46.6},{"c":0,"f":0.275,"v":47.8},{"c":0,"f":0.3,"v":48.9},{"c":0,"f":0.325,"v":49.9},{"c":0,"f":0.35,"v":50.8},{"c":0,"f":0.375,"v":51.7},{"c":0,"f":0.4,"v":52.5},{"c":0,"f":0.425,"v":53.2},{"c":0,"f":0.45,"v":53.9},{"c":0,"f":0.475,"v":54.5},{"c":0,"f":0.5,"v":55},{"c":0,"f":0.525,"v":55.4},{"c":0,"f":0.55,"v":55.8},{"c":0,"f":0.575,"v":56.1},{"c":0,"f":0.6,"v":56.3},{"c":0,"f":0.625,"v":56.5},{"c":0,"f":0.65,"v":56.5},{"c":0,"f":0.675,"v":56.5},{"c":0,"f":0.7,"v":56.5},{"c":0,"f":0.725,"v":56.3},{"c":0,"f":0.75,"v":56.1},{"c":0,"f":0.775,"v":55.8},{"c":0,"f":0.8,"v":55.5},{"c":0,"f":0.825,"v":55},{"c":0,"f":0.85,"v":54.5},{"c":0,"f":0.875,"v":54},{"c":0,"f":0.9,"v":53.3},{"c":0,"f":0.925,"v":52.6},{"c":0,"f":0.95,"v":51.8},{"c":0,"f":0.975,"v":50.9},{"c":0,"f":1,"v":50},
{"c":0.025,"f":0,"v":32.4},{"c":0.025,"f":0.025,"v":34.2},{"c":0.025,"f":0.05,"v":36},{"c":0.025,"f":0.075,"v":37.8},{"c":0.025,"f":0.1,"v":39.4},{"c":0.025,"f":0.125,"v":41},{"c":0.025,"f":0.15,"v":42.5},{"c":0.025,"f":0.175,"v":43.9},{"c":0.025,"f":0.2,"v":45.3},{"c":0.025,"f":0.225,"v":46.6},{"c":0.025,"f":0.25,"v":47.8},{"c":0.025,"f":0.275,"v":48.9},{"c":0.025,"f":0.3,"v":50},{"c":0.025,"f":0.325,"v":50.9},{"c":0.025,"f":0.35,"v":51.9},{"c":0.025,"f":0.375,"v":52.7},{"c":0.025,"f":0.4,"v":53.5},{"c":0.025,"f":0.425,"v":54.2},{"c":0.025,"f":0.45,"v":54.8},{"c":0.025,"f":0.475,"v":55.3},{"c":0.025,"f":0.5,"v":55.8},{"c":0.025,"f":0.525,"v":56.2},{"c":0.025,"f":0.55,"v":56.5},{"c":0.025,"f":0.575,"v":56.8},{"c":0.025,"f":0.6,"v":57},{"c":0.025,"f":0.625,"v":57.1},{"c":0.025,"f":0.65,"v":57.1},{"c":0.025,"f":0.675,"v":57.1},{"c":0.025,"f":0.7,"v":56.9},{"c":0.025,"f":0.725,"v":56.8},{"c":0.025,"f":0.75,"v":56.5},{"c":0.025,"f":0.775,"v":56.2},{"c":0.025,"f":0.8,"v":55.8},{"c":0.025,"f":0.825,"v":55.3},{"c":0.025,"f":0.85,"v":54.7},{"c":0.025,"f":0.875,"v":54.1},{"c":0.025,"f":0.9,"v":53.4},{"c":0.025,"f":0.925,"v":52.6},{"c":0.025,"f":0.95,"v":51.8},{"c":0.025,"f":0.975,"v":50.8},
{"c":0.05,"f":0,"v":33.7},{"c":0.05,"f":0.025,"v":35.5},{"c":0.05,"f":0.05,"v":37.3},{"c":0.05,"f":0.075,"v":39},{"c":0.05,"f":0.1,"v":40.7},{"c":0.05,"f":0.125,"v":42.2},{"c":0.05,"f":0.15,"v":43.7},{"c":0.05,"f":0.175,"v":45.1},{"c":0.05,"f":0.2,"v":46.4},{"c":0.05,"f":0.225,"v":47.7},{"c":0.05,"f":0.25,"v":48.9},{"c":0.05,"f":0.275,"v":50},{"c":0.05,"f":0.3,"v":51},{"c":0.05,"f":0.325,"v":52},{"c":0.05,"f":0.35,"v":52.9},{"c":0.05,"f":0.375,"v":53.7},{"c":0.05,"f":0.4,"v":54.4},{"c":0.05,"f":0.425,"v":55.1},{"c":0.05,"f":0.45,"v":55.7},{"c":0.05,"f":0.475,"v":56.2},{"c":0.05,"f":0.5,"v":56.6},{"c":0.05,"f":0.525,"v":57},{"c":0.05,"f":0.55,"v":57.3},{"c":0.05,"f":0.575,"v":57.5},{"c":0.05,"f":0.6,"v":57.6},{"c":0.05,"f":0.625,"v":57.7},{"c":0.05,"f":0.65,"v":57.7},{"c":0.05,"f":0.675,"v":57.6},{"c":0.05,"f":0.7,"v":57.4},{"c":0.05,"f":0.725,"v":57.2},{"c":0.05,"f":0.75,"v":56.8},{"c":0.05,"f":0.775,"v":56.5},{"c":0.05,"f":0.8,"v":56},{"c":0.05,"f":0.825,"v":55.4},{"c":0.05,"f":0.85,"v":54.8},{"c":0.05,"f":0.875,"v":54.1},{"c":0.05,"f":0.9,"v":53.4},{"c":0.05,"f":0.925,"v":52.5},{"c":0.05,"f":0.95,"v":51.6},
{"c":0.075,"f":0,"v":34.9},{"c":0.075,"f":0.025,"v":36.7},{"c":0.075,"f":0.05,"v":38.5},{"c":0.075,"f":0.075,"v":40.2},{"c":0.075,"f":0.1,"v":41.9},{"c":0.075,"f":0.125,"v":43.4},{"c":0.075,"f":0.15,"v":44.9},{"c":0.075,"f":0.175,"v":46.3},{"c":0.075,"f":0.2,"v":47.6},{"c":0.075,"f":0.225,"v":48.9},{"c":0.075,"f":0.25,"v":50},{"c":0.075,"f":0.275,"v":51.1},{"c":0.075,"f":0.3,"v":52.1},{"c":0.075,"f":0.325,"v":53.1},{"c":0.075,"f":0.35,"v":53.9},{"c":0.075,"f":0.375,"v":54.7},{"c":0.075,"f":0.4,"v":55.4},{"c":0.075,"f":0.425,"v":56},{"c":0.075,"f":0.45,"v":56.6},{"c":0.075,"f":0.475,"v":57},{"c":0.075,"f":0.5,"v":57.4},{"c":0.075,"f":0.525,"v":57.8},{"c":0.075,"f":0.55,"v":58},{"c":0.075,"f":0.575,"v":58.2},{"c":0.075,"f":0.6,"v":58.2},{"c":0.075,"f":0.625,"v":58.2},{"c":0.075,"f":0.65,"v":58.2},{"c":0.075,"f":0.675,"v":58},{"c":0.075,"f":0.7,"v":57.8},{"c":0.075,"f":0.725,"v":57.5},{"c":0.075,"f":0.75,"v":57.1},{"c":0.075,"f":0.775,"v":56.7},{"c":0.075,"f":0.8,"v":56.1},{"c":0.075,"f":0.825,"v":55.5},{"c":0.075,"f":0.85,"v":54.8},{"c":0.075,"f":0.875,"v":54.1},{"c":0.075,"f":0.9,"v":53.2},{"c":0.075,"f":0.925,"v":52.3},
{"c":0.1,"f":0,"v":36},{"c":0.1,"f":0.025,"v":37.9},{"c":0.1,"f":0.05,"v":39.7},{"c":0.1,"f":0.075,"v":41.4},{"c":0.1,"f":0.1,"v":43},{"c":0.1,"f":0.125,"v":44.6},{"c":0.1,"f":0.15,"v":46.1},{"c":0.1,"f":0.175,"v":47.4},{"c":0.1,"f":0.2,"v":48.7},{"c":0.1,"f":0.225,"v":50},{"c":0.1,"f":0.25,"v":51.1},{"c":0.1,"f":0.275,"v":52.2},{"c":0.1,"f":0.3,"v":53.2},{"c":0.1,"f":0.325,"v":54.1},{"c":0.1,"f":0.35,"v":54.9},{"c":0.1,"f":0.375,"v":55.7},{"c":0.1,"f":0.4,"v":56.3},{"c":0.1,"f":0.425,"v":56.9},{"c":0.1,"f":0.45,"v":57.4},{"c":0.1,"f":0.475,"v":57.9},{"c":0.1,"f":0.5,"v":58.2},{"c":0.1,"f":0.525,"v":58.5},{"c":0.1,"f":0.55,"v":58.7},{"c":0.1,"f":0.575,"v":58.8},{"c":0.1,"f":0.6,"v":58.8},{"c":0.1,"f":0.625,"v":58.8},{"c":0.1,"f":0.65,"v":58.6},{"c":0.1,"f":0.675,"v":58.4},{"c":0.1,"f":0.7,"v":58.1},{"c":0.1,"f":0.725,"v":57.8},{"c":0.1,"f":0.75,"v":57.3},{"c":0.1,"f":0.775,"v":56.8},{"c":0.1,"f":0.8,"v":56.2},{"c":0.1,"f":0.825,"v":55.5},{"c":0.1,"f":0.85,"v":54.7},{"c":0.1,"f":0.875,"v":53.9},{"c":0.1,"f":0.9,"v":53},
{"c":0.125,"f":0,"v":37.1},{"c":0.125,"f":0.025,"v":39},{"c":0.125,"f":0.05,"v":40.8},{"c":0.125,"f":0.075,"v":42.5},{"c":0.125,"f":0.1,"v":44.2},{"c":0.125,"f":0.125,"v":45.7},{"c":0.125,"f":0.15,"v":47.2},{"c":0.125,"f":0.175,"v":48.6},{"c":0.125,"f":0.2,"v":49.9},{"c":0.125,"f":0.225,"v":51.1},{"c":0.125,"f":0.25,"v":52.2},{"c":0.125,"f":0.275,"v":53.3},{"c":0.125,"f":0.3,"v":54.2},{"c":0.125,"f":0.325,"v":55.1},{"c":0.125,"f":0.35,"v":55.9},{"c":0.125,"f":0.375,"v":56.6},{"c":0.125,"f":0.4,"v":57.3},{"c":0.125,"f":0.425,"v":57.8},{"c":0.125,"f":0.45,"v":58.3},{"c":0.125,"f":0.475,"v":58.7},{"c":0.125,"f":0.5,"v":59},{"c":0.125,"f":0.525,"v":59.2},{"c":0.125,"f":0.55,"v":59.3},{"c":0.125,"f":0.575,"v":59.4},{"c":0.125,"f":0.6,"v":59.4},{"c":0.125,"f":0.625,"v":59.2},{"c":0.125,"f":0.65,"v":59},{"c":0.125,"f":0.675,"v":58.8},{"c":0.125,"f":0.7,"v":58.4},{"c":0.125,"f":0.725,"v":58},{"c":0.125,"f":0.75,"v":57.4},{"c":0.125,"f":0.775,"v":56.8},{"c":0.125,"f":0.8,"v":56.1},{"c":0.125,"f":0.825,"v":55.3},{"c":0.125,"f":0.85,"v":54.5},{"c":0.125,"f":0.875,"v":53.5},
{"c":0.15,"f":0,"v":38.1},{"c":0.15,"f":0.025,"v":40},{"c":0.15,"f":0.05,"v":41.9},{"c":0.15,"f":0.075,"v":43.6},{"c":0.15,"f":0.1,"v":45.2},{"c":0.15,"f":0.125,"v":46.8},{"c":0.15,"f":0.15,"v":48.3},{"c":0.15,"f":0.175,"v":49.6},{"c":0.15,"f":0.2,"v":50.9},{"c":0.15,"f":0.225,"v":52.1},{"c":0.15,"f":0.25,"v":53.3},{"c":0.15,"f":0.275,"v":54.3},{"c":0.15,"f":0.3,"v":55.2},{"c":0.15,"f":0.325,"v":56.1},{"c":0.15,"f":0.35,"v":56.9},{"c":0.15,"f":0.375,"v":57.6},{"c":0.15,"f":0.4,"v":58.2},{"c":0.15,"f":0.425,"v":58.7},{"c":0.15,"f":0.45,"v":59.1},{"c":0.15,"f":0.475,"v":59.4},{"c":0.15,"f":0.5,"v":59.7},{"c":0.15,"f":0.525,"v":59.8},{"c":0.15,"f":0.55,"v":59.9},{"c":0.15,"f":0.575,"v":59.9},{"c":0.15,"f":0.6,"v":59.8},{"c":0.15,"f":0.625,"v":59.6},{"c":0.15,"f":0.65,"v":59.3},{"c":0.15,"f":0.675,"v":59},{"c":0.15,"f":0.7,"v":58.5},{"c":0.15,"f":0.725,"v":58},{"c":0.15,"f":0.75,"v":57.4},{"c":0.15,"f":0.775,"v":56.7},{"c":0.15,"f":0.8,"v":55.9},{"c":0.15,"f":0.825,"v":55},{"c":0.15,"f":0.85,"v":54},
{"c":0.175,"f":0,"v":39.1},{"c":0.175,"f":0.025,"v":41},{"c":0.175,"f":0.05,"v":42.9},{"c":0.175,"f":0.075,"v":44.6},{"c":0.175,"f":0.1,"v":46.3},{"c":0.175,"f":0.125,"v":47.8},{"c":0.175,"f":0.15,"v":49.3},{"c":0.175,"f":0.175,"v":50.7},{"c":0.175,"f":0.2,"v":52},{"c":0.175,"f":0.225,"v":53.2},{"c":0.175,"f":0.25,"v":54.3},{"c":0.175,"f":0.275,"v":55.3},{"c":0.175,"f":0.3,"v":56.2},{"c":0.175,"f":0.325,"v":57},{"c":0.175,"f":0.35,"v":57.8},{"c":0.175,"f":0.375,"v":58.4},{"c":0.175,"f":0.4,"v":59},{"c":0.175,"f":0.425,"v":59.4},{"c":0.175,"f":0.45,"v":59.8},{"c":0.175,"f":0.475,"v":60.1},{"c":0.175,"f":0.5,"v":60.3},{"c":0.175,"f":0.525,"v":60.4},{"c":0.175,"f":0.55,"v":60.4},{"c":0.175,"f":0.575,"v":60.3},{"c":0.175,"f":0.6,"v":60.1},{"c":0.175,"f":0.625,"v":59.9},{"c":0.175,"f":0.65,"v":59.5},{"c":0.175,"f":0.675,"v":59.1},{"c":0.175,"f":0.7,"v":58.5},{"c":0.175,"f":0.725,"v":57.9},{"c":0.175,"f":0.75,"v":57.2},{"c":0.175,"f":0.775,"v":56.4},{"c":0.175,"f":0.8,"v":55.5},{"c":0.175,"f":0.825,"v":54.5},
{"c":0.2,"f":0,"v":40},{"c":0.2,"f":0.025,"v":41.9},{"c":0.2,"f":0.05,"v":43.8},{"c":0.2,"f":0.075,"v":45.5},{"c":0.2,"f":0.1,"v":47.2},{"c":0.2,"f":0.125,"v":48.8},{"c":0.2,"f":0.15,"v":50.3},{"c":0.2,"f":0.175,"v":51.6},{"c":0.2,"f":0.2,"v":52.9},{"c":0.2,"f":0.225,"v":54.1},{"c":0.2,"f":0.25,"v":55.2},{"c":0.2,"f":0.275,"v":56.2},{"c":0.2,"f":0.3,"v":57.1},{"c":0.2,"f":0.325,"v":57.9},{"c":0.2,"f":0.35,"v":58.6},{"c":0.2,"f":0.375,"v":59.2},{"c":0.2,"f":0.4,"v":59.7},{"c":0.2,"f":0.425,"v":60.2},{"c":0.2,"f":0.45,"v":60.5},{"c":0.2,"f":0.475,"v":60.7},{"c":0.2,"f":0.5,"v":60.8},{"c":0.2,"f":0.525,"v":60.9},{"c":0.2,"f":0.55,"v":60.8},{"c":0.2,"f":0.575,"v":60.6},{"c":0.2,"f":0.6,"v":60.4},{"c":0.2,"f":0.625,"v":60},{"c":0.2,"f":0.65,"v":59.6},{"c":0.2,"f":0.675,"v":59},{"c":0.2,"f":0.7,"v":58.4},{"c":0.2,"f":0.725,"v":57.6},{"c":0.2,"f":0.75,"v":56.8},{"c":0.2,"f":0.775,"v":55.9},{"c":0.2,"f":0.8,"v":54.8},
{"c":0.225,"f":0,"v":40.8},{"c":0.225,"f":0.025,"v":42.8},{"c":0.225,"f":0.05,"v":44.6},{"c":0.225,"f":0.075,"v":46.4},{"c":0.225,"f":0.1,"v":48.1},{"c":0.225,"f":0.125,"v":49.7},{"c":0.225,"f":0.15,"v":51.2},{"c":0.225,"f":0.175,"v":52.6},{"c":0.225,"f":0.2,"v":53.9},{"c":0.225,"f":0.225,"v":55},{"c":0.225,"f":0.25,"v":56.1},{"c":0.225,"f":0.275,"v":57.1},{"c":0.225,"f":0.3,"v":57.9},{"c":0.225,"f":0.325,"v":58.7},{"c":0.225,"f":0.35,"v":59.4},{"c":0.225,"f":0.375,"v":60},{"c":0.225,"f":0.4,"v":60.4},{"c":0.225,"f":0.425,"v":60.8},{"c":0.225,"f":0.45,"v":61},{"c":0.225,"f":0.475,"v":61.2},{"c":0.225,"f":0.5,"v":61.3},{"c":0.225,"f":0.525,"v":61.2},{"c":0.225,"f":0.55,"v":61.1},{"c":0.225,"f":0.575,"v":60.8},{"c":0.225,"f":0.6,"v":60.5},{"c":0.225,"f":0.625,"v":60},{"c":0.225,"f":0.65,"v":59.4},{"c":0.225,"f":0.675,"v":58.8},{"c":0.225,"f":0.7,"v":58},{"c":0.225,"f":0.725,"v":57.2},{"c":0.225,"f":0.75,"v":56.2},{"c":0.225,"f":0.775,"v":55.1},
{"c":0.25,"f":0,"v":41.5},{"c":0.25,"f":0.025,"v":43.5},{"c":0.25,"f":0.05,"v":45.4},{"c":0.25,"f":0.075,"v":47.3},{"c":0.25,"f":0.1,"v":49},{"c":0.25,"f":0.125,"v":50.6},{"c":0.25,"f":0.15,"v":52.1},{"c":0.25,"f":0.175,"v":53.4},{"c":0.25,"f":0.2,"v":54.7},{"c":0.25,"f":0.225,"v":55.9},{"c":0.25,"f":0.25,"v":56.9},{"c":0.25,"f":0.275,"v":57.9},{"c":0.25,"f":0.3,"v":58.7},{"c":0.25,"f":0.325,"v":59.4},{"c":0.25,"f":0.35,"v":60.1},{"c":0.25,"f":0.375,"v":60.6},{"c":0.25,"f":0.4,"v":61},{"c":0.25,"f":0.425,"v":61.3},{"c":0.25,"f":0.45,"v":61.5},{"c":0.25,"f":0.475,"v":61.6},{"c":0.25,"f":0.5,"v":61.6},{"c":0.25,"f":0.525,"v":61.4},{"c":0.25,"f":0.55,"v":61.2},{"c":0.25,"f":0.575,"v":60.8},{"c":0.25,"f":0.6,"v":60.4},{"c":0.25,"f":0.625,"v":59.8},{"c":0.25,"f":0.65,"v":59.1},{"c":0.25,"f":0.675,"v":58.4},{"c":0.25,"f":0.7,"v":57.5},{"c":0.25,"f":0.725,"v":56.5},{"c":0.25,"f":0.75,"v":55.4},
{"c":0.275,"f":0,"v":42.2},{"c":0.275,"f":0.025,"v":44.2},{"c":0.275,"f":0.05,"v":46.2},{"c":0.275,"f":0.075,"v":48},{"c":0.275,"f":0.1,"v":49.7},{"c":0.275,"f":0.125,"v":51.4},{"c":0.275,"f":0.15,"v":52.8},{"c":0.275,"f":0.175,"v":54.2},{"c":0.275,"f":0.2,"v":55.5},{"c":0.275,"f":0.225,"v":56.6},{"c":0.275,"f":0.25,"v":57.7},{"c":0.275,"f":0.275,"v":58.6},{"c":0.275,"f":0.3,"v":59.4},{"c":0.275,"f":0.325,"v":60.1},{"c":0.275,"f":0.35,"v":60.7},{"c":0.275,"f":0.375,"v":61.1},{"c":0.275,"f":0.4,"v":61.5},{"c":0.275,"f":0.425,"v":61.7},{"c":0.275,"f":0.45,"v":61.8},{"c":0.275,"f":0.475,"v":61.8},{"c":0.275,"f":0.5,"v":61.7},{"c":0.275,"f":0.525,"v":61.5},{"c":0.275,"f":0.55,"v":61.1},{"c":0.275,"f":0.575,"v":60.7},{"c":0.275,"f":0.6,"v":60.1},{"c":0.275,"f":0.625,"v":59.4},{"c":0.275,"f":0.65,"v":58.6},{"c":0.275,"f":0.675,"v":57.7},{"c":0.275,"f":0.7,"v":56.7},{"c":0.275,"f":0.725,"v":55.5},
{"c":0.3,"f":0,"v":42.8},{"c":0.3,"f":0.025,"v":44.9},{"c":0.3,"f":0.05,"v":46.9},{"c":0.3,"f":0.075,"v":48.7},{"c":0.3,"f":0.1,"v":50.5},{"c":0.3,"f":0.125,"v":52.1},{"c":0.3,"f":0.15,"v":53.6},{"c":0.3,"f":0.175,"v":54.9},{"c":0.3,"f":0.2,"v":56.2},{"c":0.3,"f":0.225,"v":57.3},{"c":0.3,"f":0.25,"v":58.3},{"c":0.3,"f":0.275,"v":59.2},{"c":0.3,"f":0.3,"v":60},{"c":0.3,"f":0.325,"v":60.6},{"c":0.3,"f":0.35,"v":61.2},{"c":0.3,"f":0.375,"v":61.5},{"c":0.3,"f":0.4,"v":61.8},{"c":0.3,"f":0.425,"v":62},{"c":0.3,"f":0.45,"v":62},{"c":0.3,"f":0.475,"v":61.9},{"c":0.3,"f":0.5,"v":61.7},{"c":0.3,"f":0.525,"v":61.4},{"c":0.3,"f":0.55,"v":60.9},{"c":0.3,"f":0.575,"v":60.4},{"c":0.3,"f":0.6,"v":59.7},{"c":0.3,"f":0.625,"v":58.8},{"c":0.3,"f":0.65,"v":57.9},{"c":0.3,"f":0.675,"v":56.8},{"c":0.3,"f":0.7,"v":55.6},
{"c":0.325,"f":0,"v":43.3},{"c":0.325,"f":0.025,"v":45.4},{"c":0.325,"f":0.05,"v":47.4},{"c":0.325,"f":0.075,"v":49.3},{"c":0.325,"f":0.1,"v":51.1},{"c":0.325,"f":0.125,"v":52.7},{"c":0.325,"f":0.15,"v":54.2},{"c":0.325,"f":0.175,"v":55.6},{"c":0.325,"f":0.2,"v":56.8},{"c":0.325,"f":0.225,"v":57.9},{"c":0.325,"f":0.25,"v":58.9},{"c":0.325,"f":0.275,"v":59.7},{"c":0.325,"f":0.3,"v":60.5},{"c":0.325,"f":0.325,"v":61.1},{"c":0.325,"f":0.35,"v":61.5},{"c":0.325,"f":0.375,"v":61.8},{"c":0.325,"f":0.4,"v":62},{"c":0.325,"f":0.425,"v":62.1},{"c":0.325,"f":0.45,"v":62.1},{"c":0.325,"f":0.475,"v":61.9},{"c":0.325,"f":0.5,"v":61.5},{"c":0.325,"f":0.525,"v":61.1},{"c":0.325,"f":0.55,"v":60.5},{"c":0.325,"f":0.575,"v":59.8},{"c":0.325,"f":0.6,"v":59},{"c":0.325,"f":0.625,"v":58},{"c":0.325,"f":0.65,"v":56.9},{"c":0.325,"f":0.675,"v":55.7},
{"c":0.35,"f":0,"v":43.7},{"c":0.35,"f":0.025,"v":45.9},{"c":0.35,"f":0.05,"v":48},{"c":0.35,"f":0.075,"v":49.9},{"c":0.35,"f":0.1,"v":51.6},{"c":0.35,"f":0.125,"v":53.3},{"c":0.35,"f":0.15,"v":54.8},{"c":0.35,"f":0.175,"v":56.1},{"c":0.35,"f":0.2,"v":57.3},{"c":0.35,"f":0.225,"v":58.4},{"c":0.35,"f":0.25,"v":59.4},{"c":0.35,"f":0.275,"v":60.2},{"c":0.35,"f":0.3,"v":60.8},{"c":0.35,"f":0.325,"v":61.4},{"c":0.35,"f":0.35,"v":61.7},{"c":0.35,"f":0.375,"v":62},{"c":0.35,"f":0.4,"v":62.1},{"c":0.35,"f":0.425,"v":62.1},{"c":0.35,"f":0.45,"v":61.9},{"c":0.35,"f":0.475,"v":61.6},{"c":0.35,"f":0.5,"v":61.2},{"c":0.35,"f":0.525,"v":60.6},{"c":0.35,"f":0.55,"v":59.9},{"c":0.35,"f":0.575,"v":59},{"c":0.35,"f":0.6,"v":58},{"c":0.35,"f":0.625,"v":56.9},{"c":0.35,"f":0.65,"v":55.6},
{"c":0.375,"f":0,"v":44.1},{"c":0.375,"f":0.025,"v":46.3},{"c":0.375,"f":0.05,"v":48.4},{"c":0.375,"f":0.075,"v":50.3},{"c":0.375,"f":0.1,"v":52.1},{"c":0.375,"f":0.125,"v":53.8},{"c":0.375,"f":0.15,"v":55.2},{"c":0.375,"f":0.175,"v":56.6},{"c":0.375,"f":0.2,"v":57.8},{"c":0.375,"f":0.225,"v":58.8},{"c":0.375,"f":0.25,"v":59.7},{"c":0.375,"f":0.275,"v":60.5},{"c":0.375,"f":0.3,"v":61.1},{"c":0.375,"f":0.325,"v":61.5},{"c":0.375,"f":0.35,"v":61.8},{"c":0.375,"f":0.375,"v":62},{"c":0.375,"f":0.4,"v":62},{"c":0.375,"f":0.425,"v":61.9},{"c":0.375,"f":0.45,"v":61.6},{"c":0.375,"f":0.475,"v":61.2},{"c":0.375,"f":0.5,"v":60.6},{"c":0.375,"f":0.525,"v":59.9},{"c":0.375,"f":0.55,"v":59},{"c":0.375,"f":0.575,"v":58},{"c":0.375,"f":0.6,"v":56.8},{"c":0.375,"f":0.625,"v":55.5},
{"c":0.4,"f":0,"v":44.4},{"c":0.4,"f":0.025,"v":46.7},{"c":0.4,"f":0.05,"v":48.8},{"c":0.4,"f":0.075,"v":50.7},{"c":0.4,"f":0.1,"v":52.5},{"c":0.4,"f":0.125,"v":54.2},{"c":0.4,"f":0.15,"v":55.6},{"c":0.4,"f":0.175,"v":56.9},{"c":0.4,"f":0.2,"v":58.1},{"c":0.4,"f":0.225,"v":59.1},{"c":0.4,"f":0.25,"v":60},{"c":0.4,"f":0.275,"v":60.6},{"c":0.4,"f":0.3,"v":61.2},{"c":0.4,"f":0.325,"v":61.5},{"c":0.4,"f":0.35,"v":61.8},{"c":0.4,"f":0.375,"v":61.8},{"c":0.4,"f":0.4,"v":61.7},{"c":0.4,"f":0.425,"v":61.5},{"c":0.4,"f":0.45,"v":61.1},{"c":0.4,"f":0.475,"v":60.5},{"c":0.4,"f":0.5,"v":59.8},{"c":0.4,"f":0.525,"v":58.9},{"c":0.4,"f":0.55,"v":57.9},{"c":0.4,"f":0.575,"v":56.7},{"c":0.4,"f":0.6,"v":55.4},
{"c":0.425,"f":0,"v":44.7},{"c":0.425,"f":0.025,"v":47},{"c":0.425,"f":0.05,"v":49.1},{"c":0.425,"f":0.075,"v":51},{"c":0.425,"f":0.1,"v":52.8},{"c":0.425,"f":0.125,"v":54.5},{"c":0.425,"f":0.15,"v":55.9},{"c":0.425,"f":0.175,"v":57.2},{"c":0.425,"f":0.2,"v":58.3},{"c":0.425,"f":0.225,"v":59.3},{"c":0.425,"f":0.25,"v":60.1},{"c":0.425,"f":0.275,"v":60.7},{"c":0.425,"f":0.3,"v":61.1},{"c":0.425,"f":0.325,"v":61.4},{"c":0.425,"f":0.35,"v":61.5},{"c":0.425,"f":0.375,"v":61.5},{"c":0.425,"f":0.4,"v":61.3},{"c":0.425,"f":0.425,"v":60.9},{"c":0.425,"f":0.45,"v":60.4},{"c":0.425,"f":0.475,"v":59.6},{"c":0.425,"f":0.5,"v":58.8},{"c":0.425,"f":0.525,"v":57.7},{"c":0.425,"f":0.55,"v":56.5},{"c":0.425,"f":0.575,"v":55.1},
{"c":0.45,"f":0,"v":44.9},{"c":0.45,"f":0.025,"v":47.2},{"c":0.45,"f":0.05,"v":49.3},{"c":0.45,"f":0.075,"v":51.3},{"c":0.45,"f":0.1,"v":53.1},{"c":0.45,"f":0.125,"v":54.7},{"c":0.45,"f":0.15,"v":56.1},{"c":0.45,"f":0.175,"v":57.3},{"c":0.45,"f":0.2,"v":58.4},{"c":0.45,"f":0.225,"v":59.3},{"c":0.45,"f":0.25,"v":60},{"c":0.45,"f":0.275,"v":60.6},{"c":0.45,"f":0.3,"v":60.9},{"c":0.45,"f":0.325,"v":61.1},{"c":0.45,"f":0.35,"v":61.1},{"c":0.45,"f":0.375,"v":61},{"c":0.45,"f":0.4,"v":60.6},{"c":0.45,"f":0.425,"v":60.1},{"c":0.45,"f":0.45,"v":59.4},{"c":0.45,"f":0.475,"v":58.5},{"c":0.45,"f":0.5,"v":57.5},{"c":0.45,"f":0.525,"v":56.2},{"c":0.45,"f":0.55,"v":54.8},
{"c":0.475,"f":0,"v":45},{"c":0.475,"f":0.025,"v":47.3},{"c":0.475,"f":0.05,"v":49.4},{"c":0.475,"f":0.075,"v":51.4},{"c":0.475,"f":0.1,"v":53.2},{"c":0.475,"f":0.125,"v":54.8},{"c":0.475,"f":0.15,"v":56.2},{"c":0.475,"f":0.175,"v":57.4},{"c":0.475,"f":0.2,"v":58.4},{"c":0.475,"f":0.225,"v":59.2},{"c":0.475,"f":0.25,"v":59.8},{"c":0.475,"f":0.275,"v":60.3},{"c":0.475,"f":0.3,"v":60.6},{"c":0.475,"f":0.325,"v":60.6},{"c":0.475,"f":0.35,"v":60.5},{"c":0.475,"f":0.375,"v":60.2},{"c":0.475,"f":0.4,"v":59.7},{"c":0.475,"f":0.425,"v":59},{"c":0.475,"f":0.45,"v":58.2},{"c":0.475,"f":0.475,"v":57.1},{"c":0.475,"f":0.5,"v":55.9},{"c":0.475,"f":0.525,"v":54.4},
{"c":0.5,"f":0,"v":45},{"c":0.5,"f":0.025,"v":47.4},{"c":0.5,"f":0.05,"v":49.5},{"c":0.5,"f":0.075,"v":51.5},{"c":0.5,"f":0.1,"v":53.2},{"c":0.5,"f":0.125,"v":54.8},{"c":0.5,"f":0.15,"v":56.1},{"c":0.5,"f":0.175,"v":57.3},{"c":0.5,"f":0.2,"v":58.2},{"c":0.5,"f":0.225,"v":59},{"c":0.5,"f":0.25,"v":59.5},{"c":0.5,"f":0.275,"v":59.9},{"c":0.5,"f":0.3,"v":60},{"c":0.5,"f":0.325,"v":60},{"c":0.5,"f":0.35,"v":59.7},{"c":0.5,"f":0.375,"v":59.3},{"c":0.5,"f":0.4,"v":58.6},{"c":0.5,"f":0.425,"v":57.8},{"c":0.5,"f":0.45,"v":56.7},{"c":0.5,"f":0.475,"v":55.5},{"c":0.5,"f":0.5,"v":54},
{"c":0.525,"f":0,"v":45},{"c":0.525,"f":0.025,"v":47.3},{"c":0.525,"f":0.05,"v":49.5},{"c":0.525,"f":0.075,"v":51.4},{"c":0.525,"f":0.1,"v":53.1},{"c":0.525,"f":0.125,"v":54.7},{"c":0.525,"f":0.15,"v":55.9},{"c":0.525,"f":0.175,"v":57},{"c":0.525,"f":0.2,"v":57.9},{"c":0.525,"f":0.225,"v":58.6},{"c":0.525,"f":0.25,"v":59},{"c":0.525,"f":0.275,"v":59.3},{"c":0.525,"f":0.3,"v":59.3},{"c":0.525,"f":0.325,"v":59.1},{"c":0.525,"f":0.35,"v":58.7},{"c":0.525,"f":0.375,"v":58.1},{"c":0.525,"f":0.4,"v":57.2},{"c":0.525,"f":0.425,"v":56.2},{"c":0.525,"f":0.45,"v":55},{"c":0.525,"f":0.475,"v":53.5},
{"c":0.55,"f":0,"v":44.9},{"c":0.55,"f":0.025,"v":47.2},{"c":0.55,"f":0.05,"v":49.4},{"c":0.55,"f":0.075,"v":51.3},{"c":0.55,"f":0.1,"v":53},{"c":0.55,"f":0.125,"v":54.4},{"c":0.55,"f":0.15,"v":55.7},{"c":0.55,"f":0.175,"v":56.7},{"c":0.55,"f":0.2,"v":57.5},{"c":0.55,"f":0.225,"v":58},{"c":0.55,"f":0.25,"v":58.4},{"c":0.55,"f":0.275,"v":58.5},{"c":0.55,"f":0.3,"v":58.3},{"c":0.55,"f":0.325,"v":58},{"c":0.55,"f":0.35,"v":57.4},{"c":0.55,"f":0.375,"v":56.6},{"c":0.55,"f":0.4,"v":55.6},{"c":0.55,"f":0.425,"v":54.4},{"c":0.55,"f":0.45,"v":52.9},
{"c":0.575,"f":0,"v":44.7},{"c":0.575,"f":0.025,"v":47},{"c":0.575,"f":0.05,"v":49.2},{"c":0.575,"f":0.075,"v":51},{"c":0.575,"f":0.1,"v":52.7},{"c":0.575,"f":0.125,"v":54.1},{"c":0.575,"f":0.15,"v":55.2},{"c":0.575,"f":0.175,"v":56.2},{"c":0.575,"f":0.2,"v":56.9},{"c":0.575,"f":0.225,"v":57.3},{"c":0.575,"f":0.25,"v":57.5},{"c":0.575,"f":0.275,"v":57.5},{"c":0.575,"f":0.3,"v":57.2},{"c":0.575,"f":0.325,"v":56.7},{"c":0.575,"f":0.35,"v":56},{"c":0.575,"f":0.375,"v":55},{"c":0.575,"f":0.4,"v":53.7},{"c":0.575,"f":0.425,"v":52.3},
{"c":0.6,"f":0,"v":44.4},{"c":0.6,"f":0.025,"v":46.8},{"c":0.6,"f":0.05,"v":48.9},{"c":0.6,"f":0.075,"v":50.7},{"c":0.6,"f":0.1,"v":52.3},{"c":0.6,"f":0.125,"v":53.6},{"c":0.6,"f":0.15,"v":54.7},{"c":0.6,"f":0.175,"v":55.5},{"c":0.6,"f":0.2,"v":56.1},{"c":0.6,"f":0.225,"v":56.4},{"c":0.6,"f":0.25,"v":56.5},{"c":0.6,"f":0.275,"v":56.3},{"c":0.6,"f":0.3,"v":55.9},{"c":0.6,"f":0.325,"v":55.2},{"c":0.6,"f":0.35,"v":54.2},{"c":0.6,"f":0.375,"v":53},{"c":0.6,"f":0.4,"v":51.6},
{"c":0.625,"f":0,"v":44.1},{"c":0.625,"f":0.025,"v":46.4},{"c":0.625,"f":0.05,"v":48.5},{"c":0.625,"f":0.075,"v":50.3},{"c":0.625,"f":0.1,"v":51.8},{"c":0.625,"f":0.125,"v":53},{"c":0.625,"f":0.15,"v":54},{"c":0.625,"f":0.175,"v":54.7},{"c":0.625,"f":0.2,"v":55.2},{"c":0.625,"f":0.225,"v":55.3},{"c":0.625,"f":0.25,"v":55.3},{"c":0.625,"f":0.275,"v":54.9},{"c":0.625,"f":0.3,"v":54.3},{"c":0.625,"f":0.325,"v":53.4},{"c":0.625,"f":0.35,"v":52.2},{"c":0.625,"f":0.375,"v":50.8},
{"c":0.65,"f":0,"v":43.7},{"c":0.65,"f":0.025,"v":46},{"c":0.65,"f":0.05,"v":48},{"c":0.65,"f":0.075,"v":49.7},{"c":0.65,"f":0.1,"v":51.2},{"c":0.65,"f":0.125,"v":52.3},{"c":0.65,"f":0.15,"v":53.2},{"c":0.65,"f":0.175,"v":53.8},{"c":0.65,"f":0.2,"v":54.1},{"c":0.65,"f":0.225,"v":54.1},{"c":0.65,"f":0.25,"v":53.8},{"c":0.65,"f":0.275,"v":53.3},{"c":0.65,"f":0.3,"v":52.4},{"c":0.65,"f":0.325,"v":51.3},{"c":0.65,"f":0.35,"v":49.9},
{"c":0.675,"f":0,"v":43.3},{"c":0.675,"f":0.025,"v":45.5},{"c":0.675,"f":0.05,"v":47.5},{"c":0.675,"f":0.075,"v":49.1},{"c":0.675,"f":0.1,"v":50.4},{"c":0.675,"f":0.125,"v":51.5},{"c":0.675,"f":0.15,"v":52.2},{"c":0.675,"f":0.175,"v":52.6},{"c":0.675,"f":0.2,"v":52.8},{"c":0.675,"f":0.225,"v":52.6},{"c":0.675,"f":0.25,"v":52.2},{"c":0.675,"f":0.275,"v":51.4},{"c":0.675,"f":0.3,"v":50.4},{"c":0.675,"f":0.325,"v":49},
{"c":0.7,"f":0,"v":42.8},{"c":0.7,"f":0.025,"v":44.9},{"c":0.7,"f":0.05,"v":46.8},{"c":0.7,"f":0.075,"v":48.3},{"c":0.7,"f":0.1,"v":49.6},{"c":0.7,"f":0.125,"v":50.5},{"c":0.7,"f":0.15,"v":51.1},{"c":0.7,"f":0.175,"v":51.4},{"c":0.7,"f":0.2,"v":51.3},{"c":0.7,"f":0.225,"v":51},{"c":0.7,"f":0.25,"v":50.3},{"c":0.7,"f":0.275,"v":49.3},{"c":0.7,"f":0.3,"v":48},
{"c":0.725,"f":0,"v":42.2},{"c":0.725,"f":0.025,"v":44.3},{"c":0.725,"f":0.05,"v":46},{"c":0.725,"f":0.075,"v":47.5},{"c":0.725,"f":0.1,"v":48.6},{"c":0.725,"f":0.125,"v":49.3},{"c":0.725,"f":0.15,"v":49.8},{"c":0.725,"f":0.175,"v":49.9},{"c":0.725,"f":0.2,"v":49.7},{"c":0.725,"f":0.225,"v":49.1},{"c":0.725,"f":0.25,"v":48.2},{"c":0.725,"f":0.275,"v":47},
{"c":0.75,"f":0,"v":41.5},{"c":0.75,"f":0.025,"v":43.5},{"c":0.75,"f":0.05,"v":45.2},{"c":0.75,"f":0.075,"v":46.5},{"c":0.75,"f":0.1,"v":47.4},{"c":0.75,"f":0.125,"v":48.1},{"c":0.75,"f":0.15,"v":48.3},{"c":0.75,"f":0.175,"v":48.2},{"c":0.75,"f":0.2,"v":47.8},{"c":0.75,"f":0.225,"v":47},{"c":0.75,"f":0.25,"v":45.9},
{"c":0.775,"f":0,"v":40.8},{"c":0.775,"f":0.025,"v":42.7},{"c":0.775,"f":0.05,"v":44.2},{"c":0.775,"f":0.075,"v":45.4},{"c":0.775,"f":0.1,"v":46.2},{"c":0.775,"f":0.125,"v":46.6},{"c":0.775,"f":0.15,"v":46.7},{"c":0.775,"f":0.175,"v":46.4},{"c":0.775,"f":0.2,"v":45.7},{"c":0.775,"f":0.225,"v":44.7},
{"c":0.8,"f":0,"v":40},{"c":0.8,"f":0.025,"v":41.7},{"c":0.8,"f":0.05,"v":43.1},{"c":0.8,"f":0.075,"v":44.2},{"c":0.8,"f":0.1,"v":44.8},{"c":0.8,"f":0.125,"v":45},{"c":0.8,"f":0.15,"v":44.9},{"c":0.8,"f":0.175,"v":44.4},{"c":0.8,"f":0.2,"v":43.4},
{"c":0.825,"f":0,"v":39.1},{"c":0.825,"f":0.025,"v":40.7},{"c":0.825,"f":0.05,"v":42},{"c":0.825,"f":0.075,"v":42.8},{"c":0.825,"f":0.1,"v":43.2},{"c":0.825,"f":0.125,"v":43.3},{"c":0.825,"f":0.15,"v":42.9},{"c":0.825,"f":0.175,"v":42.1},
{"c":0.85,"f":0,"v":38.1},{"c":0.85,"f":0.025,"v":39.6},{"c":0.85,"f":0.05,"v":40.7},{"c":0.85,"f":0.075,"v":41.3},{"c":0.85,"f":0.1,"v":41.6},{"c":0.85,"f":0.125,"v":41.4},{"c":0.85,"f":0.15,"v":40.7},
{"c":0.875,"f":0,"v":37.1},{"c":0.875,"f":0.025,"v":38.4},{"c":0.875,"f":0.05,"v":39.3},{"c":0.875,"f":0.075,"v":39.8},{"c":0.875,"f":0.1,"v":39.7},{"c":0.875,"f":0.125,"v":39.3},
{"c":0.9,"f":0,"v":36},{"c":0.9,"f":0.025,"v":37.2},{"c":0.9,"f":0.05,"v":37.8},{"c":0.9,"f":0.075,"v":38},{"c":0.9,"f":0.1,"v":37.8},
{"c":0.925,"f":0,"v":34.9},{"c":0.925,"f":0.025,"v":35.8},{"c":0.925,"f":0.05,"v":36.2},{"c":0.925,"f":0.075,"v":36.2},
{"c":0.95,"f":0,"v":33.7},{"c":0.95,"f":0.025,"v":34.3},{"c":0.95,"f":0.05,"v":34.5},
{"c":0.975,"f":0,"v":32.4},{"c":0.975,"f":0.025,"v":32.8},
{"c":1,"f":0,"v":31}
]
},
"hconcat":[
{
"width":287,"height":240,
"data":{"name":"common"},
"transform":[{"calculate":"datum.f + datum.c / 2","as":"x"}],
"encoding":{
"x":{"field":"x","type":"quantitative","scale":{"domain":[0,1],"nice":false,"zero":false},"axis":null},
"y":{"field":"c","type":"quantitative","scale":{"domain":[0,1],"nice":false,"zero":false},"axis":null}
},
"layer":[
{"data":{"values":[{"k":"> 5.5"},{"k":"< 5.3"},{"k":"< 4.8"},{"k":"< 4.3"},{"k":"< 3.8"},{"k":"< 3.3"},{"k":"< 2.8"},{"k":"< 2.3"}]},
"mark":{"type":"point","filled":true,"opacity":0,"size":1},
"encoding":{"x":{"datum":0.5},"y":{"datum":0.3},
"color":{"field":"k","type":"nominal","scale":{"domain":["> 5.5","< 5.3","< 4.8","< 4.3","< 3.8","< 3.3","< 2.8","< 2.3"],"range":["#6e0000","#930000","#dd0000","#ff6a00","#ffff00","#22ff00","#00a010","#00603c"]},
"legend":{"orient":"none","legendX":346,"legendY":171,"title":null,"symbolType":"M-1.6,-1L1.6,-1L1.6,1L-1.6,1Z","symbolSize":169,"symbolStrokeColor":"black","symbolStrokeWidth":1,"symbolOpacity":1,"labelFont":"Liberation Serif","labelFontSize":13,"labelColor":"#333","labelOffset":6,"rowPadding":1,"padding":0,"encode":{"symbols":{"update":{"strokeJoin":{"value":"bevel"}}}}}}}},
{"data":{"name":"a"},"transform":[{"calculate":"datum.f + datum.c / 2","as":"x"}],
"mark":{"type":"point","shape":"M0,-1.115L1,-0.5575L1,0.5575L0,1.115L-1,0.5575L-1,-0.5575Z","size":51.5,"filled":true,"opacity":1,"strokeWidth":0.5,"clip":true},
"encoding":{
"fill":{"field":"v","type":"quantitative","scale":{"domain":[2,2.3,2.8,3.3,3.8,4.3,4.8,5.1,5.35,5.45,5.52,5.65],"range":["#004a30","#006a40","#00a818","#33ff00","#ffff00","#ff6a00","#e00000","#c40000","#a80000","#980000","#820000","#6e0000"],"clamp":true},"legend":null},
"stroke":{"field":"v","type":"quantitative","scale":{"domain":[2,2.3,2.8,3.3,3.8,4.3,4.8,5.1,5.35,5.45,5.52,5.65],"range":["#004a30","#006a40","#00a818","#33ff00","#ffff00","#ff6a00","#e00000","#c40000","#a80000","#980000","#820000","#6e0000"],"clamp":true},"legend":null}}},
{"transform":[{"filter":"datum.g == 'mL'"}],"mark":{"type":"area","orient":"horizontal","color":"white"},"encoding":{"x2":{"datum":0}}},
{"transform":[{"filter":"datum.g == 'mR'"}],"mark":{"type":"area","orient":"horizontal","color":"white"},"encoding":{"x2":{"datum":1}}},
{"transform":[{"filter":"datum.g == 'o'"}],"mark":{"type":"line","color":"black","strokeWidth":1,"strokeJoin":"miter"},"encoding":{"order":{"field":"o","type":"quantitative"}}},
{"transform":[{"filter":"datum.g == 'L'"}],"mark":{"type":"text","align":"right","baseline":"alphabetic","dx":-4,"dy":5,"font":"Liberation Serif","fontSize":15,"color":"#333"},"encoding":{"text":{"field":"t"}}},
{"transform":[{"filter":"datum.g == 'R'"}],"mark":{"type":"text","align":"left","baseline":"alphabetic","dx":4,"dy":5,"font":"Liberation Serif","fontSize":15,"color":"#333"},"encoding":{"text":{"field":"t"}}},
{"transform":[{"filter":"datum.g == 'B'"}],"mark":{"type":"text","align":"center","baseline":"alphabetic","dy":20,"font":"Liberation Serif","fontSize":15,"color":"#333"},"encoding":{"text":{"field":"t"}}},
{"transform":[{"filter":"datum.g == 'T'"}],"mark":{"type":"text","align":"center","baseline":"alphabetic","dy":-19,"font":"Liberation Serif","fontSize":19,"color":"#222"},"encoding":{"text":{"field":"t"}}},
{"transform":[{"filter":"datum.g == 'N'"}],"mark":{"type":"text","align":"center","baseline":"alphabetic","dx":-1,"dy":42,"font":"Liberation Serif","fontSize":19,"color":"#222"},"encoding":{"text":{"field":"t"}}},
{"transform":[{"filter":"datum.g == 'ta'"}],"mark":{"type":"text","align":"left","baseline":"alphabetic","dx":-175,"dy":-29,"font":"Liberation Serif","fontSize":26,"fontWeight":"bold","color":"black"},"encoding":{"text":{"field":"t"}}}
]
},
{
"width":287,"height":240,
"data":{"name":"common"},
"transform":[{"calculate":"datum.f + datum.c / 2","as":"x"}],
"encoding":{
"x":{"field":"x","type":"quantitative","scale":{"domain":[0,1],"nice":false,"zero":false},"axis":null},
"y":{"field":"c","type":"quantitative","scale":{"domain":[0,1],"nice":false,"zero":false},"axis":null}
},
"layer":[
{"data":{"values":[{"k":"> 60"},{"k":"< 56"},{"k":"< 51"},{"k":"< 46"},{"k":"< 41"},{"k":"< 36"},{"k":"< 31"}]},
"mark":{"type":"point","filled":true,"opacity":0,"size":1},
"encoding":{"x":{"datum":0.5},"y":{"datum":0.3},
"color":{"field":"k","type":"nominal","scale":{"domain":["> 60","< 56","< 51","< 46","< 41","< 36","< 31"],"range":["#780000","#c80000","#ff5000","#ffff00","#22ff00","#00a010","#00603c"]},
"legend":{"orient":"none","legendX":347,"legendY":187,"title":null,"symbolType":"M-1.6,-1L1.6,-1L1.6,1L-1.6,1Z","symbolSize":169,"symbolStrokeColor":"black","symbolStrokeWidth":1,"symbolOpacity":1,"labelFont":"Liberation Serif","labelFontSize":13,"labelColor":"#333","labelOffset":6,"rowPadding":1,"padding":0,"encode":{"symbols":{"update":{"strokeJoin":{"value":"bevel"}}}}}}}},
{"data":{"name":"b"},"transform":[{"calculate":"datum.f + datum.c / 2","as":"x"}],
"mark":{"type":"point","shape":"M0,-1.115L1,-0.5575L1,0.5575L0,1.115L-1,0.5575L-1,-0.5575Z","size":51.5,"filled":true,"opacity":1,"strokeWidth":0.5,"clip":true},
"encoding":{
"fill":{"field":"v","type":"quantitative","scale":{"domain":[31,36,41,46,51,56,59,60.5,62],"range":["#005a3a","#00a010","#33ff00","#ffff00","#ff5a00","#d40000","#a80000","#8a0000","#760000"],"clamp":true},"legend":null},
"stroke":{"field":"v","type":"quantitative","scale":{"domain":[31,36,41,46,51,56,59,60.5,62],"range":["#005a3a","#00a010","#33ff00","#ffff00","#ff5a00","#d40000","#a80000","#8a0000","#760000"],"clamp":true},"legend":null}}},
{"transform":[{"filter":"datum.g == 'mL'"}],"mark":{"type":"area","orient":"horizontal","color":"white"},"encoding":{"x2":{"datum":0}}},
{"transform":[{"filter":"datum.g == 'mR'"}],"mark":{"type":"area","orient":"horizontal","color":"white"},"encoding":{"x2":{"datum":1}}},
{"transform":[{"filter":"datum.g == 'o'"}],"mark":{"type":"line","color":"black","strokeWidth":1,"strokeJoin":"miter"},"encoding":{"order":{"field":"o","type":"quantitative"}}},
{"transform":[{"filter":"datum.g == 'L'"}],"mark":{"type":"text","align":"right","baseline":"alphabetic","dx":-4,"dy":5,"font":"Liberation Serif","fontSize":15,"color":"#333"},"encoding":{"text":{"field":"t"}}},
{"transform":[{"filter":"datum.g == 'R'"}],"mark":{"type":"text","align":"left","baseline":"alphabetic","dx":4,"dy":5,"font":"Liberation Serif","fontSize":15,"color":"#333"},"encoding":{"text":{"field":"t"}}},
{"transform":[{"filter":"datum.g == 'B'"}],"mark":{"type":"text","align":"center","baseline":"alphabetic","dy":20,"font":"Liberation Serif","fontSize":15,"color":"#333"},"encoding":{"text":{"field":"t"}}},
{"transform":[{"filter":"datum.g == 'T'"}],"mark":{"type":"text","align":"center","baseline":"alphabetic","dy":-19,"font":"Liberation Serif","fontSize":19,"color":"#222"},"encoding":{"text":{"field":"t"}}},
{"transform":[{"filter":"datum.g == 'N'"}],"mark":{"type":"text","align":"center","baseline":"alphabetic","dx":-2,"dy":42,"font":"Liberation Serif","fontSize":19,"color":"#222"},"encoding":{"text":{"field":"t"}}},
{"transform":[{"filter":"datum.g == 'tb'"}],"mark":{"type":"text","align":"left","baseline":"alphabetic","dx":-178,"dy":-29,"font":"Liberation Serif","fontSize":26,"fontWeight":"bold","color":"black"},"encoding":{"text":{"field":"t"}}}
]
}
]
}
